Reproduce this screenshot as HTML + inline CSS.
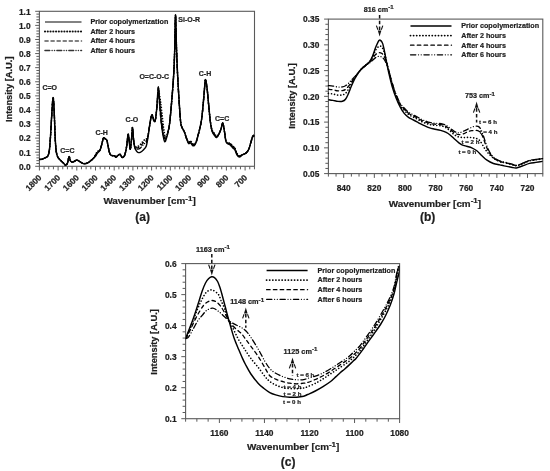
<!DOCTYPE html>
<html><head><meta charset="utf-8"><title>FTIR spectra</title>
<style>html,body{margin:0;padding:0;background:#fff;width:550px;height:471px;overflow:hidden}
text{font-family:"Liberation Sans", sans-serif;stroke:#1e1e1e;stroke-width:0.22px;paint-order:stroke}</style></head>
<body>
<svg width="550" height="471" viewBox="0 0 550 471" style="display:block;filter:grayscale(1) blur(0.35px)">
<defs><clipPath id="ca"><rect x="39.4" y="11.3" width="215.1" height="155"/></clipPath><clipPath id="cc"><rect x="185.6" y="263.6" width="214" height="155.1"/></clipPath></defs>
<rect width="550" height="471" fill="#fff"/>
<g font-family='"Liberation Sans", sans-serif'>
<line x1="35.2" y1="166.3" x2="39.4" y2="166.3" stroke="#5a5a5a" stroke-width="1.0" />
<text x="30.6" y="166.6" font-size="8.4" font-weight="bold" text-anchor="end" dominant-baseline="central" fill="#1e1e1e" >0.0</text>
<line x1="36.4" y1="163.48" x2="39.4" y2="163.48" stroke="#5a5a5a" stroke-width="1.0" />
<line x1="36.4" y1="160.66" x2="39.4" y2="160.66" stroke="#5a5a5a" stroke-width="1.0" />
<line x1="36.4" y1="157.85" x2="39.4" y2="157.85" stroke="#5a5a5a" stroke-width="1.0" />
<line x1="36.4" y1="155.03" x2="39.4" y2="155.03" stroke="#5a5a5a" stroke-width="1.0" />
<line x1="35.2" y1="152.21" x2="39.4" y2="152.21" stroke="#5a5a5a" stroke-width="1.0" />
<text x="30.6" y="152.51" font-size="8.4" font-weight="bold" text-anchor="end" dominant-baseline="central" fill="#1e1e1e" >0.1</text>
<line x1="36.4" y1="149.39" x2="39.4" y2="149.39" stroke="#5a5a5a" stroke-width="1.0" />
<line x1="36.4" y1="146.57" x2="39.4" y2="146.57" stroke="#5a5a5a" stroke-width="1.0" />
<line x1="36.4" y1="143.75" x2="39.4" y2="143.75" stroke="#5a5a5a" stroke-width="1.0" />
<line x1="36.4" y1="140.94" x2="39.4" y2="140.94" stroke="#5a5a5a" stroke-width="1.0" />
<line x1="35.2" y1="138.12" x2="39.4" y2="138.12" stroke="#5a5a5a" stroke-width="1.0" />
<text x="30.6" y="138.42" font-size="8.4" font-weight="bold" text-anchor="end" dominant-baseline="central" fill="#1e1e1e" >0.2</text>
<line x1="36.4" y1="135.3" x2="39.4" y2="135.3" stroke="#5a5a5a" stroke-width="1.0" />
<line x1="36.4" y1="132.48" x2="39.4" y2="132.48" stroke="#5a5a5a" stroke-width="1.0" />
<line x1="36.4" y1="129.66" x2="39.4" y2="129.66" stroke="#5a5a5a" stroke-width="1.0" />
<line x1="36.4" y1="126.85" x2="39.4" y2="126.85" stroke="#5a5a5a" stroke-width="1.0" />
<line x1="35.2" y1="124.03" x2="39.4" y2="124.03" stroke="#5a5a5a" stroke-width="1.0" />
<text x="30.6" y="124.33" font-size="8.4" font-weight="bold" text-anchor="end" dominant-baseline="central" fill="#1e1e1e" >0.3</text>
<line x1="36.4" y1="121.21" x2="39.4" y2="121.21" stroke="#5a5a5a" stroke-width="1.0" />
<line x1="36.4" y1="118.39" x2="39.4" y2="118.39" stroke="#5a5a5a" stroke-width="1.0" />
<line x1="36.4" y1="115.57" x2="39.4" y2="115.57" stroke="#5a5a5a" stroke-width="1.0" />
<line x1="36.4" y1="112.75" x2="39.4" y2="112.75" stroke="#5a5a5a" stroke-width="1.0" />
<line x1="35.2" y1="109.94" x2="39.4" y2="109.94" stroke="#5a5a5a" stroke-width="1.0" />
<text x="30.6" y="110.24" font-size="8.4" font-weight="bold" text-anchor="end" dominant-baseline="central" fill="#1e1e1e" >0.4</text>
<line x1="36.4" y1="107.12" x2="39.4" y2="107.12" stroke="#5a5a5a" stroke-width="1.0" />
<line x1="36.4" y1="104.3" x2="39.4" y2="104.3" stroke="#5a5a5a" stroke-width="1.0" />
<line x1="36.4" y1="101.48" x2="39.4" y2="101.48" stroke="#5a5a5a" stroke-width="1.0" />
<line x1="36.4" y1="98.66" x2="39.4" y2="98.66" stroke="#5a5a5a" stroke-width="1.0" />
<line x1="35.2" y1="95.85" x2="39.4" y2="95.85" stroke="#5a5a5a" stroke-width="1.0" />
<text x="30.6" y="96.15" font-size="8.4" font-weight="bold" text-anchor="end" dominant-baseline="central" fill="#1e1e1e" >0.5</text>
<line x1="36.4" y1="93.03" x2="39.4" y2="93.03" stroke="#5a5a5a" stroke-width="1.0" />
<line x1="36.4" y1="90.21" x2="39.4" y2="90.21" stroke="#5a5a5a" stroke-width="1.0" />
<line x1="36.4" y1="87.39" x2="39.4" y2="87.39" stroke="#5a5a5a" stroke-width="1.0" />
<line x1="36.4" y1="84.57" x2="39.4" y2="84.57" stroke="#5a5a5a" stroke-width="1.0" />
<line x1="35.2" y1="81.75" x2="39.4" y2="81.75" stroke="#5a5a5a" stroke-width="1.0" />
<text x="30.6" y="82.05" font-size="8.4" font-weight="bold" text-anchor="end" dominant-baseline="central" fill="#1e1e1e" >0.6</text>
<line x1="36.4" y1="78.94" x2="39.4" y2="78.94" stroke="#5a5a5a" stroke-width="1.0" />
<line x1="36.4" y1="76.12" x2="39.4" y2="76.12" stroke="#5a5a5a" stroke-width="1.0" />
<line x1="36.4" y1="73.3" x2="39.4" y2="73.3" stroke="#5a5a5a" stroke-width="1.0" />
<line x1="36.4" y1="70.48" x2="39.4" y2="70.48" stroke="#5a5a5a" stroke-width="1.0" />
<line x1="35.2" y1="67.66" x2="39.4" y2="67.66" stroke="#5a5a5a" stroke-width="1.0" />
<text x="30.6" y="67.96" font-size="8.4" font-weight="bold" text-anchor="end" dominant-baseline="central" fill="#1e1e1e" >0.7</text>
<line x1="36.4" y1="64.85" x2="39.4" y2="64.85" stroke="#5a5a5a" stroke-width="1.0" />
<line x1="36.4" y1="62.03" x2="39.4" y2="62.03" stroke="#5a5a5a" stroke-width="1.0" />
<line x1="36.4" y1="59.21" x2="39.4" y2="59.21" stroke="#5a5a5a" stroke-width="1.0" />
<line x1="36.4" y1="56.39" x2="39.4" y2="56.39" stroke="#5a5a5a" stroke-width="1.0" />
<line x1="35.2" y1="53.57" x2="39.4" y2="53.57" stroke="#5a5a5a" stroke-width="1.0" />
<text x="30.6" y="53.87" font-size="8.4" font-weight="bold" text-anchor="end" dominant-baseline="central" fill="#1e1e1e" >0.8</text>
<line x1="36.4" y1="50.75" x2="39.4" y2="50.75" stroke="#5a5a5a" stroke-width="1.0" />
<line x1="36.4" y1="47.94" x2="39.4" y2="47.94" stroke="#5a5a5a" stroke-width="1.0" />
<line x1="36.4" y1="45.12" x2="39.4" y2="45.12" stroke="#5a5a5a" stroke-width="1.0" />
<line x1="36.4" y1="42.3" x2="39.4" y2="42.3" stroke="#5a5a5a" stroke-width="1.0" />
<line x1="35.2" y1="39.48" x2="39.4" y2="39.48" stroke="#5a5a5a" stroke-width="1.0" />
<text x="30.6" y="39.78" font-size="8.4" font-weight="bold" text-anchor="end" dominant-baseline="central" fill="#1e1e1e" >0.9</text>
<line x1="36.4" y1="36.66" x2="39.4" y2="36.66" stroke="#5a5a5a" stroke-width="1.0" />
<line x1="36.4" y1="33.85" x2="39.4" y2="33.85" stroke="#5a5a5a" stroke-width="1.0" />
<line x1="36.4" y1="31.03" x2="39.4" y2="31.03" stroke="#5a5a5a" stroke-width="1.0" />
<line x1="36.4" y1="28.21" x2="39.4" y2="28.21" stroke="#5a5a5a" stroke-width="1.0" />
<line x1="35.2" y1="25.39" x2="39.4" y2="25.39" stroke="#5a5a5a" stroke-width="1.0" />
<text x="30.6" y="25.69" font-size="8.4" font-weight="bold" text-anchor="end" dominant-baseline="central" fill="#1e1e1e" >1.0</text>
<line x1="36.4" y1="22.57" x2="39.4" y2="22.57" stroke="#5a5a5a" stroke-width="1.0" />
<line x1="36.4" y1="19.75" x2="39.4" y2="19.75" stroke="#5a5a5a" stroke-width="1.0" />
<line x1="36.4" y1="16.94" x2="39.4" y2="16.94" stroke="#5a5a5a" stroke-width="1.0" />
<line x1="36.4" y1="14.12" x2="39.4" y2="14.12" stroke="#5a5a5a" stroke-width="1.0" />
<line x1="35.2" y1="11.3" x2="39.4" y2="11.3" stroke="#5a5a5a" stroke-width="1.0" />
<text x="30.6" y="11.6" font-size="8.4" font-weight="bold" text-anchor="end" dominant-baseline="central" fill="#1e1e1e" >1.1</text>
<line x1="39.4" y1="166.3" x2="39.4" y2="170.5" stroke="#5a5a5a" stroke-width="1.0" />
<text x="0" y="0" font-size="8.4" font-weight="bold" fill="#1e1e1e" text-anchor="end" dominant-baseline="central" transform="translate(40,176.1) rotate(-45)">1800</text>
<line x1="44.07" y1="166.3" x2="44.07" y2="169.3" stroke="#5a5a5a" stroke-width="1.0" />
<line x1="48.75" y1="166.3" x2="48.75" y2="169.3" stroke="#5a5a5a" stroke-width="1.0" />
<line x1="53.42" y1="166.3" x2="53.42" y2="169.3" stroke="#5a5a5a" stroke-width="1.0" />
<line x1="58.1" y1="166.3" x2="58.1" y2="170.5" stroke="#5a5a5a" stroke-width="1.0" />
<text x="0" y="0" font-size="8.4" font-weight="bold" fill="#1e1e1e" text-anchor="end" dominant-baseline="central" transform="translate(58.7,176.1) rotate(-45)">1700</text>
<line x1="62.77" y1="166.3" x2="62.77" y2="169.3" stroke="#5a5a5a" stroke-width="1.0" />
<line x1="67.45" y1="166.3" x2="67.45" y2="169.3" stroke="#5a5a5a" stroke-width="1.0" />
<line x1="72.12" y1="166.3" x2="72.12" y2="169.3" stroke="#5a5a5a" stroke-width="1.0" />
<line x1="76.8" y1="166.3" x2="76.8" y2="170.5" stroke="#5a5a5a" stroke-width="1.0" />
<text x="0" y="0" font-size="8.4" font-weight="bold" fill="#1e1e1e" text-anchor="end" dominant-baseline="central" transform="translate(77.4,176.1) rotate(-45)">1600</text>
<line x1="81.47" y1="166.3" x2="81.47" y2="169.3" stroke="#5a5a5a" stroke-width="1.0" />
<line x1="86.15" y1="166.3" x2="86.15" y2="169.3" stroke="#5a5a5a" stroke-width="1.0" />
<line x1="90.82" y1="166.3" x2="90.82" y2="169.3" stroke="#5a5a5a" stroke-width="1.0" />
<line x1="95.5" y1="166.3" x2="95.5" y2="170.5" stroke="#5a5a5a" stroke-width="1.0" />
<text x="0" y="0" font-size="8.4" font-weight="bold" fill="#1e1e1e" text-anchor="end" dominant-baseline="central" transform="translate(96.1,176.1) rotate(-45)">1500</text>
<line x1="100.17" y1="166.3" x2="100.17" y2="169.3" stroke="#5a5a5a" stroke-width="1.0" />
<line x1="104.85" y1="166.3" x2="104.85" y2="169.3" stroke="#5a5a5a" stroke-width="1.0" />
<line x1="109.53" y1="166.3" x2="109.53" y2="169.3" stroke="#5a5a5a" stroke-width="1.0" />
<line x1="114.2" y1="166.3" x2="114.2" y2="170.5" stroke="#5a5a5a" stroke-width="1.0" />
<text x="0" y="0" font-size="8.4" font-weight="bold" fill="#1e1e1e" text-anchor="end" dominant-baseline="central" transform="translate(114.8,176.1) rotate(-45)">1400</text>
<line x1="118.88" y1="166.3" x2="118.88" y2="169.3" stroke="#5a5a5a" stroke-width="1.0" />
<line x1="123.55" y1="166.3" x2="123.55" y2="169.3" stroke="#5a5a5a" stroke-width="1.0" />
<line x1="128.22" y1="166.3" x2="128.22" y2="169.3" stroke="#5a5a5a" stroke-width="1.0" />
<line x1="132.9" y1="166.3" x2="132.9" y2="170.5" stroke="#5a5a5a" stroke-width="1.0" />
<text x="0" y="0" font-size="8.4" font-weight="bold" fill="#1e1e1e" text-anchor="end" dominant-baseline="central" transform="translate(133.5,176.1) rotate(-45)">1300</text>
<line x1="137.57" y1="166.3" x2="137.57" y2="169.3" stroke="#5a5a5a" stroke-width="1.0" />
<line x1="142.25" y1="166.3" x2="142.25" y2="169.3" stroke="#5a5a5a" stroke-width="1.0" />
<line x1="146.93" y1="166.3" x2="146.93" y2="169.3" stroke="#5a5a5a" stroke-width="1.0" />
<line x1="151.6" y1="166.3" x2="151.6" y2="170.5" stroke="#5a5a5a" stroke-width="1.0" />
<text x="0" y="0" font-size="8.4" font-weight="bold" fill="#1e1e1e" text-anchor="end" dominant-baseline="central" transform="translate(152.2,176.1) rotate(-45)">1200</text>
<line x1="156.28" y1="166.3" x2="156.28" y2="169.3" stroke="#5a5a5a" stroke-width="1.0" />
<line x1="160.95" y1="166.3" x2="160.95" y2="169.3" stroke="#5a5a5a" stroke-width="1.0" />
<line x1="165.62" y1="166.3" x2="165.62" y2="169.3" stroke="#5a5a5a" stroke-width="1.0" />
<line x1="170.3" y1="166.3" x2="170.3" y2="170.5" stroke="#5a5a5a" stroke-width="1.0" />
<text x="0" y="0" font-size="8.4" font-weight="bold" fill="#1e1e1e" text-anchor="end" dominant-baseline="central" transform="translate(170.9,176.1) rotate(-45)">1100</text>
<line x1="174.97" y1="166.3" x2="174.97" y2="169.3" stroke="#5a5a5a" stroke-width="1.0" />
<line x1="179.65" y1="166.3" x2="179.65" y2="169.3" stroke="#5a5a5a" stroke-width="1.0" />
<line x1="184.33" y1="166.3" x2="184.33" y2="169.3" stroke="#5a5a5a" stroke-width="1.0" />
<line x1="189" y1="166.3" x2="189" y2="170.5" stroke="#5a5a5a" stroke-width="1.0" />
<text x="0" y="0" font-size="8.4" font-weight="bold" fill="#1e1e1e" text-anchor="end" dominant-baseline="central" transform="translate(189.6,176.1) rotate(-45)">1000</text>
<line x1="193.68" y1="166.3" x2="193.68" y2="169.3" stroke="#5a5a5a" stroke-width="1.0" />
<line x1="198.35" y1="166.3" x2="198.35" y2="169.3" stroke="#5a5a5a" stroke-width="1.0" />
<line x1="203.03" y1="166.3" x2="203.03" y2="169.3" stroke="#5a5a5a" stroke-width="1.0" />
<line x1="207.7" y1="166.3" x2="207.7" y2="170.5" stroke="#5a5a5a" stroke-width="1.0" />
<text x="0" y="0" font-size="8.4" font-weight="bold" fill="#1e1e1e" text-anchor="end" dominant-baseline="central" transform="translate(208.3,176.1) rotate(-45)">900</text>
<line x1="212.38" y1="166.3" x2="212.38" y2="169.3" stroke="#5a5a5a" stroke-width="1.0" />
<line x1="217.05" y1="166.3" x2="217.05" y2="169.3" stroke="#5a5a5a" stroke-width="1.0" />
<line x1="221.72" y1="166.3" x2="221.72" y2="169.3" stroke="#5a5a5a" stroke-width="1.0" />
<line x1="226.4" y1="166.3" x2="226.4" y2="170.5" stroke="#5a5a5a" stroke-width="1.0" />
<text x="0" y="0" font-size="8.4" font-weight="bold" fill="#1e1e1e" text-anchor="end" dominant-baseline="central" transform="translate(227,176.1) rotate(-45)">800</text>
<line x1="231.08" y1="166.3" x2="231.08" y2="169.3" stroke="#5a5a5a" stroke-width="1.0" />
<line x1="235.75" y1="166.3" x2="235.75" y2="169.3" stroke="#5a5a5a" stroke-width="1.0" />
<line x1="240.43" y1="166.3" x2="240.43" y2="169.3" stroke="#5a5a5a" stroke-width="1.0" />
<line x1="245.1" y1="166.3" x2="245.1" y2="170.5" stroke="#5a5a5a" stroke-width="1.0" />
<text x="0" y="0" font-size="8.4" font-weight="bold" fill="#1e1e1e" text-anchor="end" dominant-baseline="central" transform="translate(245.7,176.1) rotate(-45)">700</text>
<line x1="249.78" y1="166.3" x2="249.78" y2="169.3" stroke="#5a5a5a" stroke-width="1.0" />
<line x1="254.45" y1="166.3" x2="254.45" y2="169.3" stroke="#5a5a5a" stroke-width="1.0" />
<rect x="39.4" y="11.3" width="215.1" height="155" fill="none" stroke="#5a5a5a" stroke-width="1.1"/>
<line x1="45" y1="22" x2="81.5" y2="22" stroke="#585858" stroke-width="1.7" />
<text x="90.4" y="21.8" font-size="7.2" font-weight="bold" text-anchor="start" dominant-baseline="central" fill="#1e1e1e" >Prior copolymerization</text>
<line x1="45" y1="31.5" x2="81.5" y2="31.5" stroke="#111" stroke-width="2.15" stroke-dasharray="0.01 2.76" stroke-linecap="round"/>
<text x="90.4" y="31.3" font-size="7.2" font-weight="bold" text-anchor="start" dominant-baseline="central" fill="#1e1e1e" >After 2 hours</text>
<line x1="45" y1="41" x2="81.5" y2="41" stroke="#585858" stroke-width="1.55" stroke-dasharray="3.12 2.94" stroke-linecap="round"/>
<text x="90.4" y="40.8" font-size="7.2" font-weight="bold" text-anchor="start" dominant-baseline="central" fill="#1e1e1e" >After 4 hours</text>
<line x1="45" y1="50.5" x2="81.5" y2="50.5" stroke="#333" stroke-width="1.55" stroke-dasharray="4.72 2.4 0.01 2.4 0.01 2.4" stroke-linecap="round"/>
<text x="90.4" y="50.3" font-size="7.2" font-weight="bold" text-anchor="start" dominant-baseline="central" fill="#1e1e1e" >After 6 hours</text>
<text x="49.7" y="87.2" font-size="7.0" font-weight="bold" text-anchor="middle" dominant-baseline="central" fill="#1e1e1e" >C=O</text>
<text x="67.4" y="150.2" font-size="7.0" font-weight="bold" text-anchor="middle" dominant-baseline="central" fill="#1e1e1e" >C=C</text>
<text x="101.7" y="132.3" font-size="7.0" font-weight="bold" text-anchor="middle" dominant-baseline="central" fill="#1e1e1e" >C-H</text>
<text x="131.9" y="119.4" font-size="7.0" font-weight="bold" text-anchor="middle" dominant-baseline="central" fill="#1e1e1e" >C-O</text>
<text x="154.3" y="76.4" font-size="7.0" font-weight="bold" text-anchor="middle" dominant-baseline="central" fill="#1e1e1e" >O=C-O-C</text>
<text x="189.2" y="19.1" font-size="7.0" font-weight="bold" text-anchor="middle" dominant-baseline="central" fill="#1e1e1e" >Si-O-R</text>
<text x="205" y="73.8" font-size="7.0" font-weight="bold" text-anchor="middle" dominant-baseline="central" fill="#1e1e1e" >C-H</text>
<text x="222.1" y="118.9" font-size="7.0" font-weight="bold" text-anchor="middle" dominant-baseline="central" fill="#1e1e1e" >C=C</text>
<g clip-path="url(#ca)">
<path d="M39.6,159.4 C40,159.38 41.27,159.48 42,159.3 C42.73,159.12 43.25,158.65 44,158.3 C44.75,157.95 45.82,157.68 46.5,157.2 C47.18,156.72 47.62,156.6 48.1,155.4 C48.58,154.2 48.98,153.4 49.4,150 C49.82,146.6 50.2,141 50.6,135 C51,129 51.38,120.23 51.8,114 C52.22,107.77 52.7,97.93 53.1,97.6 C53.5,97.27 53.85,105.27 54.2,112 C54.55,118.73 54.87,131.5 55.2,138 C55.53,144.5 55.82,147.93 56.2,151 C56.58,154.07 56.92,154.98 57.5,156.4 C58.08,157.82 58.78,158.47 59.7,159.5 C60.62,160.53 62.02,161.65 63,162.6 C63.98,163.55 64.85,165.13 65.6,165.2 C66.35,165.27 66.92,164.43 67.5,163 C68.08,161.57 68.58,156.9 69.1,156.6 C69.62,156.3 69.95,160.3 70.6,161.2 C71.25,162.1 72.18,162.1 73,162 C73.82,161.9 74.78,160.9 75.5,160.6 C76.22,160.3 76.48,159.97 77.3,160.2 C78.12,160.43 79.33,161.43 80.4,162 C81.47,162.57 82.47,163.47 83.7,163.6 C84.93,163.73 86.35,163.52 87.8,162.8 C89.25,162.08 91.12,160.52 92.4,159.3 C93.68,158.08 94.68,156.64 95.5,155.49 C96.32,154.34 96.58,153.25 97.3,152.41 C98.02,151.58 99.15,151.48 99.8,150.5 C100.45,149.51 100.77,148 101.2,146.5 C101.63,145 102,142.95 102.4,141.5 C102.8,140.05 103.12,138.23 103.6,137.8 C104.08,137.37 104.77,138.48 105.3,138.9 C105.83,139.32 106.38,139.37 106.8,140.3 C107.22,141.23 107.43,142.78 107.8,144.5 C108.17,146.22 108.6,148.97 109,150.6 C109.4,152.23 109.68,153.47 110.2,154.3 C110.72,155.13 111.37,155.35 112.1,155.6 C112.83,155.85 113.98,155.52 114.6,155.8 C115.22,156.08 115.3,157.3 115.8,157.3 C116.3,157.3 116.88,156.3 117.6,155.8 C118.32,155.3 119.38,154.05 120.1,154.3 C120.82,154.55 121.22,156.98 121.9,157.3 C122.58,157.62 123.58,157.1 124.2,156.2 C124.82,155.3 125.15,153.85 125.6,151.9 C126.05,149.95 126.48,147.45 126.9,144.5 C127.32,141.55 127.7,134.62 128.1,134.2 C128.5,133.78 128.93,139.5 129.3,142 C129.67,144.5 129.93,149.6 130.3,149.2 C130.67,148.8 131.13,143.2 131.5,139.6 C131.87,136 132.15,127.53 132.5,127.6 C132.85,127.67 133.2,136.65 133.6,140 C134,143.35 134.47,146.23 134.9,147.69 C135.33,149.16 135.72,148.55 136.2,148.8 C136.68,149.05 137.13,149.3 137.8,149.2 C138.47,149.1 139.5,148.7 140.2,148.2 C140.9,147.7 141.43,146.8 142,146.2 C142.57,145.6 143.1,145.1 143.6,144.6 C144.1,144.1 144.52,143.57 145,143.2 C145.48,142.83 146.02,143.5 146.5,142.4 C146.98,141.3 147.38,139.35 147.9,136.6 C148.42,133.85 149.05,129.2 149.6,125.9 C150.15,122.6 150.73,118.58 151.2,116.8 C151.67,115.02 151.97,114.57 152.4,115.2 C152.83,115.83 153.33,119.7 153.8,120.6 C154.27,121.5 154.72,122.53 155.2,120.6 C155.68,118.67 156.18,114.4 156.7,109 C157.22,103.6 157.98,91.28 158.3,88.2 C158.62,85.12 158.28,87.7 158.6,90.5 C158.92,93.3 159.6,99.5 160.2,105 C160.8,110.5 161.6,118.5 162.2,123.5 C162.8,128.5 163.32,132.38 163.8,135 C164.28,137.62 164.62,138.95 165.1,139.2 C165.58,139.45 166.18,137.87 166.7,136.5 C167.22,135.13 167.72,133.15 168.2,131 C168.68,128.85 169.03,128.37 169.6,123.6 C170.17,118.83 170.93,110.33 171.6,102.4 C172.27,94.47 173.08,84.73 173.6,76 C174.12,67.27 174.38,60.17 174.7,50 C175.02,39.83 175.2,15.33 175.5,15 C175.8,14.67 176.17,38.33 176.5,48 C176.83,57.67 177.15,65.5 177.5,73 C177.85,80.5 178.23,86.83 178.6,93 C178.97,99.17 179.33,104.97 179.7,110 C180.07,115.03 180.38,120.23 180.8,123.2 C181.22,126.17 181.6,126.33 182.2,127.8 C182.8,129.27 183.68,130.26 184.4,132 C185.12,133.74 185.8,136.45 186.5,138.26 C187.2,140.06 187.93,142.23 188.6,142.82 C189.27,143.42 189.83,141.54 190.5,141.84 C191.17,142.14 191.92,144.19 192.6,144.65 C193.28,145.1 193.97,145.12 194.6,144.57 C195.23,144.01 195.83,142.84 196.4,141.33 C196.97,139.82 197.43,137.64 198,135.5 C198.57,133.36 199.2,131.17 199.8,128.5 C200.4,125.83 201.03,123.58 201.6,119.5 C202.17,115.42 202.73,108.92 203.2,104 C203.67,99.08 204.03,94.07 204.4,90 C204.77,85.93 204.95,79.82 205.4,79.6 C205.85,79.38 206.55,84.4 207.1,88.7 C207.65,93 208.15,99.87 208.7,105.4 C209.25,110.93 209.83,117.64 210.4,121.86 C210.97,126.08 211.4,128.61 212.1,130.73 C212.8,132.85 213.83,133.58 214.6,134.6 C215.37,135.63 215.93,137.06 216.7,136.88 C217.47,136.7 218.45,134.93 219.2,133.5 C219.95,132.07 220.6,130.03 221.2,128.3 C221.8,126.57 222.23,122.42 222.8,123.1 C223.37,123.78 224.07,129.35 224.6,132.4 C225.13,135.45 225.42,139.59 226,141.42 C226.58,143.24 227.4,142.91 228.1,143.36 C228.8,143.8 229.4,143.47 230.2,144.08 C231,144.69 232.1,146.16 232.9,147.01 C233.7,147.85 234.3,147.92 235,149.14 C235.7,150.36 236.33,153.07 237.1,154.31 C237.87,155.55 238.85,156.42 239.6,156.57 C240.35,156.72 240.73,155.7 241.6,155.23 C242.47,154.75 243.93,154.2 244.8,153.7 C245.67,153.2 246.12,152.97 246.8,152.2 C247.48,151.43 248.2,150.83 248.9,149.1 C249.6,147.37 250.3,144.05 251,141.8 C251.7,139.55 252.55,136.5 253.1,135.6 C253.65,134.7 254.1,136.27 254.3,136.4" fill="none" stroke="#000" stroke-width="1.3" stroke-linejoin="round" stroke-dasharray="4.72 2.4 0.01 2.4 0.01 2.4" stroke-linecap="round"/>
<path d="M39.6,159.4 C40,159.38 41.27,159.48 42,159.3 C42.73,159.12 43.25,158.65 44,158.3 C44.75,157.95 45.82,157.68 46.5,157.2 C47.18,156.72 47.62,156.6 48.1,155.4 C48.58,154.2 48.98,153.4 49.4,150 C49.82,146.6 50.2,141 50.6,135 C51,129 51.38,120.23 51.8,114 C52.22,107.77 52.7,97.93 53.1,97.6 C53.5,97.27 53.85,105.27 54.2,112 C54.55,118.73 54.87,131.5 55.2,138 C55.53,144.5 55.82,147.93 56.2,151 C56.58,154.07 56.92,154.98 57.5,156.4 C58.08,157.82 58.78,158.47 59.7,159.5 C60.62,160.53 62.02,161.65 63,162.6 C63.98,163.55 64.85,165.13 65.6,165.2 C66.35,165.27 66.92,164.43 67.5,163 C68.08,161.57 68.58,156.9 69.1,156.6 C69.62,156.3 69.95,160.3 70.6,161.2 C71.25,162.1 72.18,162.1 73,162 C73.82,161.9 74.78,160.9 75.5,160.6 C76.22,160.3 76.48,159.97 77.3,160.2 C78.12,160.43 79.33,161.43 80.4,162 C81.47,162.57 82.47,163.47 83.7,163.6 C84.93,163.73 86.35,163.52 87.8,162.8 C89.25,162.08 91.12,160.58 92.4,159.3 C93.68,158.02 94.68,156.37 95.5,155.14 C96.32,153.91 96.58,152.7 97.3,151.92 C98.02,151.14 99.15,151.35 99.8,150.44 C100.45,149.54 100.77,147.99 101.2,146.5 C101.63,145.01 102,142.95 102.4,141.5 C102.8,140.05 103.12,138.23 103.6,137.8 C104.08,137.37 104.77,138.48 105.3,138.9 C105.83,139.32 106.38,139.37 106.8,140.3 C107.22,141.23 107.43,142.78 107.8,144.5 C108.17,146.22 108.6,148.97 109,150.6 C109.4,152.23 109.68,153.47 110.2,154.3 C110.72,155.13 111.37,155.35 112.1,155.6 C112.83,155.85 113.98,155.52 114.6,155.8 C115.22,156.08 115.3,157.3 115.8,157.3 C116.3,157.3 116.88,156.3 117.6,155.8 C118.32,155.3 119.38,154.05 120.1,154.3 C120.82,154.55 121.22,156.98 121.9,157.3 C122.58,157.62 123.58,157.1 124.2,156.2 C124.82,155.3 125.15,153.85 125.6,151.9 C126.05,149.95 126.48,147.45 126.9,144.5 C127.32,141.55 127.7,134.62 128.1,134.2 C128.5,133.78 128.93,139.5 129.3,142 C129.67,144.5 129.93,149.6 130.3,149.2 C130.67,148.8 131.13,143.2 131.5,139.6 C131.87,136 132.15,127.53 132.5,127.6 C132.85,127.67 133.2,136.66 133.6,140 C134,143.34 134.47,146.36 134.9,147.66 C135.33,148.96 135.72,147.78 136.2,147.8 C136.68,147.82 137.13,148.07 137.8,147.8 C138.47,147.53 139.5,146.8 140.2,146.2 C140.9,145.6 141.43,144.8 142,144.2 C142.57,143.6 143.1,143.1 143.6,142.6 C144.1,142.1 144.52,141.53 145,141.2 C145.48,140.87 146.02,141.43 146.5,140.6 C146.98,139.77 147.38,138.65 147.9,136.2 C148.42,133.75 149.05,129.13 149.6,125.9 C150.15,122.67 150.73,118.58 151.2,116.8 C151.67,115.02 151.97,114.57 152.4,115.2 C152.83,115.83 153.33,119.7 153.8,120.6 C154.27,121.5 154.72,122.53 155.2,120.6 C155.68,118.67 156.18,114.4 156.7,109 C157.22,103.6 157.98,91.37 158.3,88.2 C158.62,85.03 158.38,87.28 158.6,90 C158.82,92.72 159.17,99 159.6,104.5 C160.03,110 160.63,118 161.2,123 C161.77,128 162.42,131.92 163,134.5 C163.58,137.08 164.07,138.25 164.7,138.5 C165.33,138.75 166.22,137.25 166.8,136 C167.38,134.75 167.73,133.07 168.2,131 C168.67,128.93 169.03,128.37 169.6,123.6 C170.17,118.83 170.93,110.33 171.6,102.4 C172.27,94.47 173.08,84.73 173.6,76 C174.12,67.27 174.38,60.17 174.7,50 C175.02,39.83 175.2,15.33 175.5,15 C175.8,14.67 176.17,38.33 176.5,48 C176.83,57.67 177.15,65.5 177.5,73 C177.85,80.5 178.23,86.83 178.6,93 C178.97,99.17 179.33,104.97 179.7,110 C180.07,115.03 180.38,120.23 180.8,123.2 C181.22,126.17 181.6,126.33 182.2,127.8 C182.8,129.27 183.68,130.27 184.4,132 C185.12,133.73 185.8,136.44 186.5,138.19 C187.2,139.93 187.93,141.96 188.6,142.49 C189.27,143.01 189.83,141.08 190.5,141.36 C191.17,141.64 191.92,143.69 192.6,144.17 C193.28,144.66 193.97,144.74 194.6,144.25 C195.23,143.76 195.83,142.7 196.4,141.24 C196.97,139.79 197.43,137.62 198,135.5 C198.57,133.38 199.2,131.17 199.8,128.5 C200.4,125.83 201.03,123.58 201.6,119.5 C202.17,115.42 202.73,108.92 203.2,104 C203.67,99.08 204.03,94.07 204.4,90 C204.77,85.93 204.95,79.82 205.4,79.6 C205.85,79.38 206.55,84.4 207.1,88.7 C207.65,93 208.15,99.88 208.7,105.4 C209.25,110.92 209.83,117.63 210.4,121.79 C210.97,125.96 211.4,128.34 212.1,130.4 C212.8,132.45 213.83,133.08 214.6,134.1 C215.37,135.12 215.93,136.62 216.7,136.52 C217.47,136.42 218.45,134.87 219.2,133.5 C219.95,132.13 220.6,130.03 221.2,128.3 C221.8,126.57 222.23,122.42 222.8,123.1 C223.37,123.78 224.07,129.36 224.6,132.4 C225.13,135.44 225.42,139.54 226,141.32 C226.58,143.11 227.4,142.7 228.1,143.09 C228.8,143.48 229.4,143.1 230.2,143.67 C231,144.24 232.1,145.68 232.9,146.51 C233.7,147.34 234.3,147.42 235,148.66 C235.7,149.89 236.33,152.64 237.1,153.92 C237.87,155.2 238.85,156.14 239.6,156.36 C240.35,156.57 240.73,155.63 241.6,155.19 C242.47,154.75 243.93,154.2 244.8,153.7 C245.67,153.2 246.12,152.97 246.8,152.2 C247.48,151.43 248.2,150.83 248.9,149.1 C249.6,147.37 250.3,144.05 251,141.8 C251.7,139.55 252.55,136.5 253.1,135.6 C253.65,134.7 254.1,136.27 254.3,136.4" fill="none" stroke="#000" stroke-width="1.3" stroke-linejoin="round" stroke-dasharray="3.12 2.94" stroke-linecap="round"/>
<path d="M39.6,159.4 C40,159.38 41.27,159.48 42,159.3 C42.73,159.12 43.25,158.65 44,158.3 C44.75,157.95 45.82,157.68 46.5,157.2 C47.18,156.72 47.62,156.6 48.1,155.4 C48.58,154.2 48.98,153.4 49.4,150 C49.82,146.6 50.2,141 50.6,135 C51,129 51.38,120.23 51.8,114 C52.22,107.77 52.7,97.93 53.1,97.6 C53.5,97.27 53.85,105.27 54.2,112 C54.55,118.73 54.87,131.5 55.2,138 C55.53,144.5 55.82,147.93 56.2,151 C56.58,154.07 56.92,154.98 57.5,156.4 C58.08,157.82 58.78,158.47 59.7,159.5 C60.62,160.53 62.02,161.65 63,162.6 C63.98,163.55 64.85,165.13 65.6,165.2 C66.35,165.27 66.92,164.43 67.5,163 C68.08,161.57 68.58,156.9 69.1,156.6 C69.62,156.3 69.95,160.3 70.6,161.2 C71.25,162.1 72.18,162.1 73,162 C73.82,161.9 74.78,160.9 75.5,160.6 C76.22,160.3 76.48,159.97 77.3,160.2 C78.12,160.43 79.33,161.43 80.4,162 C81.47,162.57 82.47,163.47 83.7,163.6 C84.93,163.73 86.35,163.52 87.8,162.8 C89.25,162.08 91.12,160.64 92.4,159.3 C93.68,157.96 94.68,156.1 95.5,154.79 C96.32,153.47 96.58,152.16 97.3,151.42 C98.02,150.69 99.15,151.21 99.8,150.39 C100.45,149.57 100.77,147.98 101.2,146.5 C101.63,145.02 102,142.95 102.4,141.5 C102.8,140.05 103.12,138.23 103.6,137.8 C104.08,137.37 104.77,138.48 105.3,138.9 C105.83,139.32 106.38,139.37 106.8,140.3 C107.22,141.23 107.43,142.78 107.8,144.5 C108.17,146.22 108.6,148.97 109,150.6 C109.4,152.23 109.68,153.47 110.2,154.3 C110.72,155.13 111.37,155.35 112.1,155.6 C112.83,155.85 113.98,155.52 114.6,155.8 C115.22,156.08 115.3,157.3 115.8,157.3 C116.3,157.3 116.88,156.3 117.6,155.8 C118.32,155.3 119.38,154.05 120.1,154.3 C120.82,154.55 121.22,156.98 121.9,157.3 C122.58,157.62 123.58,157.1 124.2,156.2 C124.82,155.3 125.15,153.85 125.6,151.9 C126.05,149.95 126.48,147.45 126.9,144.5 C127.32,141.55 127.7,134.62 128.1,134.2 C128.5,133.78 128.93,139.5 129.3,142 C129.67,144.5 129.93,149.6 130.3,149.2 C130.67,148.8 131.13,143.2 131.5,139.6 C131.87,136 132.15,127.53 132.5,127.6 C132.85,127.67 133.2,136.66 133.6,140 C134,143.34 134.47,146.5 134.9,147.63 C135.33,148.76 135.72,147 136.2,146.8 C136.68,146.6 137.13,146.77 137.8,146.4 C138.47,146.03 139.5,145.23 140.2,144.6 C140.9,143.97 141.43,143.23 142,142.6 C142.57,141.97 143.1,141.37 143.6,140.8 C144.1,140.23 144.52,139.52 145,139.2 C145.48,138.88 146.02,139.47 146.5,138.9 C146.98,138.33 147.38,137.97 147.9,135.8 C148.42,133.63 149.05,129.07 149.6,125.9 C150.15,122.73 150.73,118.58 151.2,116.8 C151.67,115.02 151.97,114.57 152.4,115.2 C152.83,115.83 153.33,119.7 153.8,120.6 C154.27,121.5 154.72,122.53 155.2,120.6 C155.68,118.67 156.18,114.4 156.7,109 C157.22,103.6 157.98,91.45 158.3,88.2 C158.62,84.95 158.17,86.87 158.6,89.5 C159.03,92.13 160.18,98.58 160.9,104 C161.62,109.42 162.32,117.17 162.9,122 C163.48,126.83 163.97,130.5 164.4,133 C164.83,135.5 165.07,136.67 165.5,137 C165.93,137.33 166.55,136 167,135 C167.45,134 167.77,132.9 168.2,131 C168.63,129.1 169.03,128.37 169.6,123.6 C170.17,118.83 170.93,110.33 171.6,102.4 C172.27,94.47 173.08,84.73 173.6,76 C174.12,67.27 174.38,60.17 174.7,50 C175.02,39.83 175.2,15.33 175.5,15 C175.8,14.67 176.17,38.33 176.5,48 C176.83,57.67 177.15,65.5 177.5,73 C177.85,80.5 178.23,86.83 178.6,93 C178.97,99.17 179.33,104.97 179.7,110 C180.07,115.03 180.38,120.23 180.8,123.2 C181.22,126.17 181.6,126.33 182.2,127.8 C182.8,129.27 183.68,130.28 184.4,132 C185.12,133.72 185.8,136.42 186.5,138.12 C187.2,139.81 187.93,141.69 188.6,142.15 C189.27,142.61 189.83,140.62 190.5,140.88 C191.17,141.14 191.92,143.19 192.6,143.7 C193.28,144.21 193.97,144.36 194.6,143.93 C195.23,143.51 195.83,142.56 196.4,141.16 C196.97,139.75 197.43,137.61 198,135.5 C198.57,133.39 199.2,131.17 199.8,128.5 C200.4,125.83 201.03,123.58 201.6,119.5 C202.17,115.42 202.73,108.92 203.2,104 C203.67,99.08 204.03,94.07 204.4,90 C204.77,85.93 204.95,79.82 205.4,79.6 C205.85,79.38 206.55,84.4 207.1,88.7 C207.65,93 208.15,99.9 208.7,105.4 C209.25,110.9 209.83,117.61 210.4,121.72 C210.97,125.83 211.4,128.08 212.1,130.06 C212.8,132.04 213.83,132.58 214.6,133.6 C215.37,134.62 215.93,136.18 216.7,136.16 C217.47,136.14 218.45,134.81 219.2,133.5 C219.95,132.19 220.6,130.03 221.2,128.3 C221.8,126.57 222.23,122.42 222.8,123.1 C223.37,123.78 224.07,129.38 224.6,132.4 C225.13,135.42 225.42,139.5 226,141.23 C226.58,142.97 227.4,142.48 228.1,142.82 C228.8,143.15 229.4,142.73 230.2,143.26 C231,143.79 232.1,145.19 232.9,146.01 C233.7,146.83 234.3,146.92 235,148.18 C235.7,149.43 236.33,152.2 237.1,153.53 C237.87,154.85 238.85,155.87 239.6,156.14 C240.35,156.41 240.73,155.56 241.6,155.15 C242.47,154.75 243.93,154.19 244.8,153.7 C245.67,153.21 246.12,152.97 246.8,152.2 C247.48,151.43 248.2,150.83 248.9,149.1 C249.6,147.37 250.3,144.05 251,141.8 C251.7,139.55 252.55,136.5 253.1,135.6 C253.65,134.7 254.1,136.27 254.3,136.4" fill="none" stroke="#000" stroke-width="1.65" stroke-linejoin="round" stroke-dasharray="0.01 2.76" stroke-linecap="round"/>
<path d="M39.6,159.4 C40,159.38 41.27,159.48 42,159.3 C42.73,159.12 43.25,158.65 44,158.3 C44.75,157.95 45.82,157.68 46.5,157.2 C47.18,156.72 47.62,156.6 48.1,155.4 C48.58,154.2 48.98,153.4 49.4,150 C49.82,146.6 50.2,141 50.6,135 C51,129 51.38,120.23 51.8,114 C52.22,107.77 52.7,97.93 53.1,97.6 C53.5,97.27 53.85,105.27 54.2,112 C54.55,118.73 54.87,131.5 55.2,138 C55.53,144.5 55.82,147.93 56.2,151 C56.58,154.07 56.92,154.98 57.5,156.4 C58.08,157.82 58.78,158.47 59.7,159.5 C60.62,160.53 62.02,161.65 63,162.6 C63.98,163.55 64.85,165.13 65.6,165.2 C66.35,165.27 66.92,164.43 67.5,163 C68.08,161.57 68.58,156.9 69.1,156.6 C69.62,156.3 69.95,160.3 70.6,161.2 C71.25,162.1 72.18,162.1 73,162 C73.82,161.9 74.78,160.9 75.5,160.6 C76.22,160.3 76.48,159.97 77.3,160.2 C78.12,160.43 79.33,161.43 80.4,162 C81.47,162.57 82.47,163.47 83.7,163.6 C84.93,163.73 86.35,163.52 87.8,162.8 C89.25,162.08 91.12,160.4 92.4,159.3 C93.68,158.2 94.68,157.18 95.5,156.2 C96.32,155.22 96.58,154.33 97.3,153.4 C98.02,152.47 99.15,151.75 99.8,150.6 C100.45,149.45 100.77,148.02 101.2,146.5 C101.63,144.98 102,142.95 102.4,141.5 C102.8,140.05 103.12,138.23 103.6,137.8 C104.08,137.37 104.77,138.48 105.3,138.9 C105.83,139.32 106.38,139.37 106.8,140.3 C107.22,141.23 107.43,142.78 107.8,144.5 C108.17,146.22 108.6,148.97 109,150.6 C109.4,152.23 109.68,153.47 110.2,154.3 C110.72,155.13 111.37,155.35 112.1,155.6 C112.83,155.85 113.98,155.52 114.6,155.8 C115.22,156.08 115.3,157.3 115.8,157.3 C116.3,157.3 116.88,156.3 117.6,155.8 C118.32,155.3 119.38,154.05 120.1,154.3 C120.82,154.55 121.22,156.98 121.9,157.3 C122.58,157.62 123.58,157.1 124.2,156.2 C124.82,155.3 125.15,153.85 125.6,151.9 C126.05,149.95 126.48,147.45 126.9,144.5 C127.32,141.55 127.7,134.62 128.1,134.2 C128.5,133.78 128.93,139.5 129.3,142 C129.67,144.5 129.93,149.6 130.3,149.2 C130.67,148.8 131.13,143.2 131.5,139.6 C131.87,136 132.15,127.53 132.5,127.6 C132.85,127.67 133.2,136.63 133.6,140 C134,143.37 134.47,146.03 134.9,147.8 C135.33,149.57 135.72,149.85 136.2,150.6 C136.68,151.35 137.13,152 137.8,152.3 C138.47,152.6 139.23,152.83 140.2,152.4 C141.17,151.97 142.6,150.72 143.6,149.7 C144.6,148.68 145.48,148.28 146.2,146.3 C146.92,144.32 147.33,141.2 147.9,137.8 C148.47,134.4 149.05,129.4 149.6,125.9 C150.15,122.4 150.73,118.58 151.2,116.8 C151.67,115.02 151.97,114.57 152.4,115.2 C152.83,115.83 153.33,119.7 153.8,120.6 C154.27,121.5 154.72,122.53 155.2,120.6 C155.68,118.67 156.18,114.4 156.7,109 C157.22,103.6 157.78,88.78 158.3,88.2 C158.82,87.62 159.27,99.5 159.8,105.5 C160.33,111.5 160.93,119.1 161.5,124.2 C162.07,129.3 162.65,133.17 163.2,136.1 C163.75,139.03 164.23,141.52 164.8,141.8 C165.37,142.08 166.03,139.6 166.6,137.8 C167.17,136 167.7,133.37 168.2,131 C168.7,128.63 169.03,128.37 169.6,123.6 C170.17,118.83 170.93,110.33 171.6,102.4 C172.27,94.47 173.08,84.73 173.6,76 C174.12,67.27 174.38,60.17 174.7,50 C175.02,39.83 175.2,15.33 175.5,15 C175.8,14.67 176.17,38.33 176.5,48 C176.83,57.67 177.15,65.5 177.5,73 C177.85,80.5 178.23,86.83 178.6,93 C178.97,99.17 179.33,104.97 179.7,110 C180.07,115.03 180.38,120.23 180.8,123.2 C181.22,126.17 181.6,126.33 182.2,127.8 C182.8,129.27 183.68,130.23 184.4,132 C185.12,133.77 185.8,136.48 186.5,138.4 C187.2,140.32 187.93,142.77 188.6,143.5 C189.27,144.23 189.83,142.45 190.5,142.8 C191.17,143.15 191.92,145.2 192.6,145.6 C193.28,146 193.97,145.88 194.6,145.2 C195.23,144.52 195.83,143.12 196.4,141.5 C196.97,139.88 197.43,137.67 198,135.5 C198.57,133.33 199.2,131.17 199.8,128.5 C200.4,125.83 201.03,123.58 201.6,119.5 C202.17,115.42 202.73,108.92 203.2,104 C203.67,99.08 204.03,94.07 204.4,90 C204.77,85.93 204.95,79.82 205.4,79.6 C205.85,79.38 206.55,84.4 207.1,88.7 C207.65,93 208.15,99.85 208.7,105.4 C209.25,110.95 209.83,117.67 210.4,122 C210.97,126.33 211.4,129.13 212.1,131.4 C212.8,133.67 213.83,134.57 214.6,135.6 C215.37,136.63 215.93,137.95 216.7,137.6 C217.47,137.25 218.45,135.05 219.2,133.5 C219.95,131.95 220.6,130.03 221.2,128.3 C221.8,126.57 222.23,122.42 222.8,123.1 C223.37,123.78 224.07,129.32 224.6,132.4 C225.13,135.48 225.42,139.68 226,141.6 C226.58,143.52 227.4,143.35 228.1,143.9 C228.8,144.45 229.4,144.22 230.2,144.9 C231,145.58 232.1,147.13 232.9,148 C233.7,148.87 234.3,148.92 235,150.1 C235.7,151.28 236.33,153.95 237.1,155.1 C237.87,156.25 238.85,156.97 239.6,157 C240.35,157.03 240.73,155.85 241.6,155.3 C242.47,154.75 243.93,154.22 244.8,153.7 C245.67,153.18 246.12,152.97 246.8,152.2 C247.48,151.43 248.2,150.83 248.9,149.1 C249.6,147.37 250.3,144.05 251,141.8 C251.7,139.55 252.55,136.5 253.1,135.6 C253.65,134.7 254.1,136.27 254.3,136.4" fill="none" stroke="#000" stroke-width="1.45" stroke-linejoin="round" />
</g>
<text x="149.6" y="204.4" font-size="9.9" font-weight="bold" fill="#1e1e1e" text-anchor="middle">Wavenumber [cm<tspan font-size="8" dy="-3.2">-1</tspan><tspan dy="3.2">]</tspan></text>
<text x="0" y="0" font-size="9.3" font-weight="bold" fill="#1e1e1e" text-anchor="middle" dominant-baseline="central" transform="translate(8.8,89.3) rotate(-90)">Intensity [A.U.]</text>
<text x="142.6" y="216.7" font-size="12" font-weight="bold" text-anchor="middle" dominant-baseline="central" fill="#1e1e1e" >(a)</text>
<line x1="324.1" y1="173.6" x2="328.4" y2="173.6" stroke="#5a5a5a" stroke-width="1.0" />
<text x="319.4" y="173.9" font-size="8.4" font-weight="bold" text-anchor="end" dominant-baseline="central" fill="#1e1e1e" >0.05</text>
<line x1="325.4" y1="168.45" x2="328.4" y2="168.45" stroke="#5a5a5a" stroke-width="1.0" />
<line x1="325.4" y1="163.3" x2="328.4" y2="163.3" stroke="#5a5a5a" stroke-width="1.0" />
<line x1="325.4" y1="158.15" x2="328.4" y2="158.15" stroke="#5a5a5a" stroke-width="1.0" />
<line x1="325.4" y1="153" x2="328.4" y2="153" stroke="#5a5a5a" stroke-width="1.0" />
<line x1="324.1" y1="147.85" x2="328.4" y2="147.85" stroke="#5a5a5a" stroke-width="1.0" />
<text x="319.4" y="148.15" font-size="8.4" font-weight="bold" text-anchor="end" dominant-baseline="central" fill="#1e1e1e" >0.10</text>
<line x1="325.4" y1="142.7" x2="328.4" y2="142.7" stroke="#5a5a5a" stroke-width="1.0" />
<line x1="325.4" y1="137.55" x2="328.4" y2="137.55" stroke="#5a5a5a" stroke-width="1.0" />
<line x1="325.4" y1="132.4" x2="328.4" y2="132.4" stroke="#5a5a5a" stroke-width="1.0" />
<line x1="325.4" y1="127.25" x2="328.4" y2="127.25" stroke="#5a5a5a" stroke-width="1.0" />
<line x1="324.1" y1="122.1" x2="328.4" y2="122.1" stroke="#5a5a5a" stroke-width="1.0" />
<text x="319.4" y="122.4" font-size="8.4" font-weight="bold" text-anchor="end" dominant-baseline="central" fill="#1e1e1e" >0.15</text>
<line x1="325.4" y1="116.95" x2="328.4" y2="116.95" stroke="#5a5a5a" stroke-width="1.0" />
<line x1="325.4" y1="111.8" x2="328.4" y2="111.8" stroke="#5a5a5a" stroke-width="1.0" />
<line x1="325.4" y1="106.65" x2="328.4" y2="106.65" stroke="#5a5a5a" stroke-width="1.0" />
<line x1="325.4" y1="101.5" x2="328.4" y2="101.5" stroke="#5a5a5a" stroke-width="1.0" />
<line x1="324.1" y1="96.35" x2="328.4" y2="96.35" stroke="#5a5a5a" stroke-width="1.0" />
<text x="319.4" y="96.65" font-size="8.4" font-weight="bold" text-anchor="end" dominant-baseline="central" fill="#1e1e1e" >0.20</text>
<line x1="325.4" y1="91.2" x2="328.4" y2="91.2" stroke="#5a5a5a" stroke-width="1.0" />
<line x1="325.4" y1="86.05" x2="328.4" y2="86.05" stroke="#5a5a5a" stroke-width="1.0" />
<line x1="325.4" y1="80.9" x2="328.4" y2="80.9" stroke="#5a5a5a" stroke-width="1.0" />
<line x1="325.4" y1="75.75" x2="328.4" y2="75.75" stroke="#5a5a5a" stroke-width="1.0" />
<line x1="324.1" y1="70.6" x2="328.4" y2="70.6" stroke="#5a5a5a" stroke-width="1.0" />
<text x="319.4" y="70.9" font-size="8.4" font-weight="bold" text-anchor="end" dominant-baseline="central" fill="#1e1e1e" >0.25</text>
<line x1="325.4" y1="65.45" x2="328.4" y2="65.45" stroke="#5a5a5a" stroke-width="1.0" />
<line x1="325.4" y1="60.3" x2="328.4" y2="60.3" stroke="#5a5a5a" stroke-width="1.0" />
<line x1="325.4" y1="55.15" x2="328.4" y2="55.15" stroke="#5a5a5a" stroke-width="1.0" />
<line x1="325.4" y1="50" x2="328.4" y2="50" stroke="#5a5a5a" stroke-width="1.0" />
<line x1="324.1" y1="44.85" x2="328.4" y2="44.85" stroke="#5a5a5a" stroke-width="1.0" />
<text x="319.4" y="45.15" font-size="8.4" font-weight="bold" text-anchor="end" dominant-baseline="central" fill="#1e1e1e" >0.30</text>
<line x1="325.4" y1="39.7" x2="328.4" y2="39.7" stroke="#5a5a5a" stroke-width="1.0" />
<line x1="325.4" y1="34.55" x2="328.4" y2="34.55" stroke="#5a5a5a" stroke-width="1.0" />
<line x1="325.4" y1="29.4" x2="328.4" y2="29.4" stroke="#5a5a5a" stroke-width="1.0" />
<line x1="325.4" y1="24.25" x2="328.4" y2="24.25" stroke="#5a5a5a" stroke-width="1.0" />
<line x1="324.1" y1="19.1" x2="328.4" y2="19.1" stroke="#5a5a5a" stroke-width="1.0" />
<text x="319.4" y="19.4" font-size="8.4" font-weight="bold" text-anchor="end" dominant-baseline="central" fill="#1e1e1e" >0.35</text>
<line x1="328.4" y1="173.6" x2="328.4" y2="176.6" stroke="#5a5a5a" stroke-width="1.0" />
<line x1="336.06" y1="173.6" x2="336.06" y2="176.6" stroke="#5a5a5a" stroke-width="1.0" />
<line x1="343.71" y1="173.6" x2="343.71" y2="177.9" stroke="#5a5a5a" stroke-width="1.0" />
<text x="343.71" y="188" font-size="8.4" font-weight="bold" text-anchor="middle" dominant-baseline="central" fill="#1e1e1e" >840</text>
<line x1="351.37" y1="173.6" x2="351.37" y2="176.6" stroke="#5a5a5a" stroke-width="1.0" />
<line x1="359.03" y1="173.6" x2="359.03" y2="176.6" stroke="#5a5a5a" stroke-width="1.0" />
<line x1="366.69" y1="173.6" x2="366.69" y2="176.6" stroke="#5a5a5a" stroke-width="1.0" />
<line x1="374.34" y1="173.6" x2="374.34" y2="177.9" stroke="#5a5a5a" stroke-width="1.0" />
<text x="374.34" y="188" font-size="8.4" font-weight="bold" text-anchor="middle" dominant-baseline="central" fill="#1e1e1e" >820</text>
<line x1="382" y1="173.6" x2="382" y2="176.6" stroke="#5a5a5a" stroke-width="1.0" />
<line x1="389.66" y1="173.6" x2="389.66" y2="176.6" stroke="#5a5a5a" stroke-width="1.0" />
<line x1="397.31" y1="173.6" x2="397.31" y2="176.6" stroke="#5a5a5a" stroke-width="1.0" />
<line x1="404.97" y1="173.6" x2="404.97" y2="177.9" stroke="#5a5a5a" stroke-width="1.0" />
<text x="404.97" y="188" font-size="8.4" font-weight="bold" text-anchor="middle" dominant-baseline="central" fill="#1e1e1e" >800</text>
<line x1="412.63" y1="173.6" x2="412.63" y2="176.6" stroke="#5a5a5a" stroke-width="1.0" />
<line x1="420.29" y1="173.6" x2="420.29" y2="176.6" stroke="#5a5a5a" stroke-width="1.0" />
<line x1="427.94" y1="173.6" x2="427.94" y2="176.6" stroke="#5a5a5a" stroke-width="1.0" />
<line x1="435.6" y1="173.6" x2="435.6" y2="177.9" stroke="#5a5a5a" stroke-width="1.0" />
<text x="435.6" y="188" font-size="8.4" font-weight="bold" text-anchor="middle" dominant-baseline="central" fill="#1e1e1e" >780</text>
<line x1="443.26" y1="173.6" x2="443.26" y2="176.6" stroke="#5a5a5a" stroke-width="1.0" />
<line x1="450.91" y1="173.6" x2="450.91" y2="176.6" stroke="#5a5a5a" stroke-width="1.0" />
<line x1="458.57" y1="173.6" x2="458.57" y2="176.6" stroke="#5a5a5a" stroke-width="1.0" />
<line x1="466.23" y1="173.6" x2="466.23" y2="177.9" stroke="#5a5a5a" stroke-width="1.0" />
<text x="466.23" y="188" font-size="8.4" font-weight="bold" text-anchor="middle" dominant-baseline="central" fill="#1e1e1e" >760</text>
<line x1="473.89" y1="173.6" x2="473.89" y2="176.6" stroke="#5a5a5a" stroke-width="1.0" />
<line x1="481.54" y1="173.6" x2="481.54" y2="176.6" stroke="#5a5a5a" stroke-width="1.0" />
<line x1="489.2" y1="173.6" x2="489.2" y2="176.6" stroke="#5a5a5a" stroke-width="1.0" />
<line x1="496.86" y1="173.6" x2="496.86" y2="177.9" stroke="#5a5a5a" stroke-width="1.0" />
<text x="496.86" y="188" font-size="8.4" font-weight="bold" text-anchor="middle" dominant-baseline="central" fill="#1e1e1e" >740</text>
<line x1="504.51" y1="173.6" x2="504.51" y2="176.6" stroke="#5a5a5a" stroke-width="1.0" />
<line x1="512.17" y1="173.6" x2="512.17" y2="176.6" stroke="#5a5a5a" stroke-width="1.0" />
<line x1="519.83" y1="173.6" x2="519.83" y2="176.6" stroke="#5a5a5a" stroke-width="1.0" />
<line x1="527.49" y1="173.6" x2="527.49" y2="177.9" stroke="#5a5a5a" stroke-width="1.0" />
<text x="527.49" y="188" font-size="8.4" font-weight="bold" text-anchor="middle" dominant-baseline="central" fill="#1e1e1e" >720</text>
<line x1="535.14" y1="173.6" x2="535.14" y2="176.6" stroke="#5a5a5a" stroke-width="1.0" />
<line x1="542.8" y1="173.6" x2="542.8" y2="176.6" stroke="#5a5a5a" stroke-width="1.0" />
<rect x="328.4" y="19.1" width="214.4" height="154.5" fill="none" stroke="#5a5a5a" stroke-width="1.1"/>
<line x1="410.5" y1="26" x2="451.5" y2="26" stroke="#000" stroke-width="1.45" />
<text x="461.2" y="25.8" font-size="7.2" font-weight="bold" text-anchor="start" dominant-baseline="central" fill="#1e1e1e" >Prior copolymerization</text>
<line x1="410.5" y1="35.6" x2="451.5" y2="35.6" stroke="#000" stroke-width="1.9" stroke-dasharray="0.01 3.1" stroke-linecap="round"/>
<text x="461.2" y="35.4" font-size="7.2" font-weight="bold" text-anchor="start" dominant-baseline="central" fill="#1e1e1e" >After 2 hours</text>
<line x1="410.5" y1="45.2" x2="451.5" y2="45.2" stroke="#000" stroke-width="1.3" stroke-dasharray="3.5 3.3" stroke-linecap="round"/>
<text x="461.2" y="45" font-size="7.2" font-weight="bold" text-anchor="start" dominant-baseline="central" fill="#1e1e1e" >After 4 hours</text>
<line x1="410.5" y1="54.8" x2="451.5" y2="54.8" stroke="#000" stroke-width="1.3" stroke-dasharray="5.3 2.7 0.01 2.7 0.01 2.7" stroke-linecap="round"/>
<text x="461.2" y="54.6" font-size="7.2" font-weight="bold" text-anchor="start" dominant-baseline="central" fill="#1e1e1e" >After 6 hours</text>
<text x="479.1" y="121.2" font-size="6.1" font-weight="bold" text-anchor="start" dominant-baseline="central" fill="#1e1e1e" >t = 6 h</text>
<text x="479.6" y="131.9" font-size="6.1" font-weight="bold" text-anchor="start" dominant-baseline="central" fill="#1e1e1e" >t = 4 h</text>
<text x="461.6" y="141.8" font-size="6.1" font-weight="bold" text-anchor="start" dominant-baseline="central" fill="#1e1e1e" >t = 2 h</text>
<text x="458.4" y="151.4" font-size="6.1" font-weight="bold" text-anchor="start" dominant-baseline="central" fill="#1e1e1e" >t = 0 h</text>
<path d="M328.4,85.6 C329.17,85.68 331.4,85.87 333,86.1 C334.6,86.33 336.43,86.87 338,87 C339.57,87.13 341.15,87.1 342.4,86.9 C343.65,86.7 344.48,86.38 345.5,85.8 C346.52,85.22 347.53,84.33 348.5,83.4 C349.47,82.47 350.25,81.33 351.3,80.2 C352.35,79.07 353.65,77.87 354.8,76.6 C355.95,75.33 357.07,73.87 358.2,72.6 C359.33,71.33 360.37,70.13 361.6,69 C362.83,67.87 364.27,66.8 365.6,65.8 C366.93,64.8 368.43,63.93 369.6,63 C370.77,62.07 371.6,61.1 372.6,60.2 C373.6,59.3 374.62,58.23 375.6,57.6 C376.58,56.97 377.43,56.47 378.5,56.4 C379.57,56.33 381,56.6 382,57.2 C383,57.8 383.67,58.62 384.5,60 C385.33,61.38 386.15,63.25 387,65.5 C387.85,67.75 388.63,70.25 389.6,73.5 C390.57,76.75 391.68,81.42 392.8,85 C393.92,88.58 395.1,92 396.3,95 C397.5,98 398.68,100.83 400,103 C401.32,105.17 402.78,106.47 404.2,108 C405.62,109.53 407.08,111.1 408.5,112.2 C409.92,113.3 411.28,113.83 412.7,114.6 C414.12,115.37 415.58,116.03 417,116.8 C418.42,117.57 419.78,118.5 421.2,119.2 C422.62,119.9 424.08,120.47 425.5,121 C426.92,121.53 428.12,122.03 429.7,122.4 C431.28,122.77 433.1,123 435,123.2 C436.9,123.4 439.23,123.23 441.1,123.6 C442.97,123.97 444.65,124.6 446.2,125.4 C447.75,126.2 448.98,127.37 450.4,128.4 C451.82,129.43 453.28,130.87 454.7,131.6 C456.12,132.33 457.35,132.9 458.9,132.8 C460.45,132.7 462.5,131.62 464,131 C465.5,130.38 466.18,129.87 467.9,129.1 C469.62,128.33 472.6,126.85 474.3,126.4 C476,125.95 477.03,125.95 478.1,126.4 C479.17,126.85 479.85,127.62 480.7,129.1 C481.55,130.58 482.35,132.98 483.2,135.3 C484.05,137.62 484.73,140.22 485.8,143 C486.87,145.78 488.12,149.47 489.6,152 C491.08,154.53 492.8,156.63 494.7,158.2 C496.6,159.77 499.43,160.77 501,161.4 C502.57,162.03 502.37,161.57 504.1,162 C505.83,162.43 509.35,163.45 511.4,164 C513.45,164.55 514.58,165.4 516.4,165.3 C518.22,165.2 520.12,164.22 522.3,163.4 C524.48,162.58 527.23,161.07 529.5,160.4 C531.77,159.73 533.72,159.72 535.9,159.4 C538.08,159.08 541.48,158.65 542.6,158.5" fill="none" stroke="#000" stroke-width="1.3" stroke-linejoin="round" stroke-dasharray="5.3 2.7 0.01 2.7 0.01 2.7" stroke-linecap="round"/>
<path d="M328.4,89.2 C329.17,89.3 331.4,89.53 333,89.8 C334.6,90.07 336.43,90.67 338,90.8 C339.57,90.93 341.15,90.83 342.4,90.6 C343.65,90.37 344.48,90.13 345.5,89.4 C346.52,88.67 347.53,87.43 348.5,86.2 C349.47,84.97 350.25,83.47 351.3,82 C352.35,80.53 353.65,78.92 354.8,77.4 C355.95,75.88 357.07,74.32 358.2,72.9 C359.33,71.48 360.37,70.13 361.6,68.9 C362.83,67.67 364.27,66.6 365.6,65.5 C366.93,64.4 368.43,63.48 369.6,62.3 C370.77,61.12 371.6,59.68 372.6,58.4 C373.6,57.12 374.57,55.55 375.6,54.6 C376.63,53.65 377.73,52.87 378.8,52.7 C379.87,52.53 381.05,52.88 382,53.6 C382.95,54.32 383.67,55.27 384.5,57 C385.33,58.73 386.15,61.25 387,64 C387.85,66.75 388.63,69.92 389.6,73.5 C390.57,77.08 391.68,81.82 392.8,85.5 C393.92,89.18 395.1,92.52 396.3,95.6 C397.5,98.68 398.68,101.77 400,104 C401.32,106.23 402.78,107.47 404.2,109 C405.62,110.53 407.08,112.1 408.5,113.2 C409.92,114.3 411.28,114.83 412.7,115.6 C414.12,116.37 415.58,117.03 417,117.8 C418.42,118.57 419.78,119.5 421.2,120.2 C422.62,120.9 424.08,121.47 425.5,122 C426.92,122.53 428.12,123.03 429.7,123.4 C431.28,123.77 433.1,124 435,124.2 C436.9,124.4 439.23,124.2 441.1,124.6 C442.97,125 444.65,125.73 446.2,126.6 C447.75,127.47 448.98,128.73 450.4,129.8 C451.82,130.87 453.28,132.2 454.7,133 C456.12,133.8 457.35,134.5 458.9,134.6 C460.45,134.7 462.5,134.1 464,133.6 C465.5,133.1 466.57,132.08 467.9,131.6 C469.23,131.12 470.72,130.9 472,130.7 C473.28,130.5 474.43,130.3 475.6,130.4 C476.77,130.5 478.02,130.7 479,131.3 C479.98,131.9 480.67,132.55 481.5,134 C482.33,135.45 483.17,137.83 484,140 C484.83,142.17 485.57,144.8 486.5,147 C487.43,149.2 488.23,151.23 489.6,153.2 C490.97,155.17 492.8,157.37 494.7,158.8 C496.6,160.23 499.43,161.22 501,161.8 C502.57,162.38 502.37,161.9 504.1,162.3 C505.83,162.7 509.35,163.67 511.4,164.2 C513.45,164.73 514.58,165.6 516.4,165.5 C518.22,165.4 520.12,164.42 522.3,163.6 C524.48,162.78 527.23,161.27 529.5,160.6 C531.77,159.93 533.72,159.92 535.9,159.6 C538.08,159.28 541.48,158.85 542.6,158.7" fill="none" stroke="#000" stroke-width="1.3" stroke-linejoin="round" stroke-dasharray="3.5 3.3" stroke-linecap="round"/>
<path d="M328.4,93.4 C329.17,93.5 331.4,93.72 333,94 C334.6,94.28 336.43,94.95 338,95.1 C339.57,95.25 341.15,95.18 342.4,94.9 C343.65,94.62 344.48,94.35 345.5,93.4 C346.52,92.45 347.53,90.83 348.5,89.2 C349.47,87.57 350.25,85.5 351.3,83.6 C352.35,81.7 353.65,79.6 354.8,77.8 C355.95,76 357.07,74.3 358.2,72.8 C359.33,71.3 360.37,70.05 361.6,68.8 C362.83,67.55 364.27,66.47 365.6,65.3 C366.93,64.13 368.43,63.15 369.6,61.8 C370.77,60.45 371.6,59.13 372.6,57.2 C373.6,55.27 374.5,52.03 375.6,50.2 C376.7,48.37 378.13,46.67 379.2,46.2 C380.27,45.73 381.12,46.27 382,47.4 C382.88,48.53 383.67,50.32 384.5,53 C385.33,55.68 386.15,59.97 387,63.5 C387.85,67.03 388.63,70.42 389.6,74.2 C390.57,77.98 391.68,82.5 392.8,86.2 C393.92,89.9 395.1,93.27 396.3,96.4 C397.5,99.53 398.68,102.7 400,105 C401.32,107.3 402.78,108.63 404.2,110.2 C405.62,111.77 407.08,113.3 408.5,114.4 C409.92,115.5 411.28,116.03 412.7,116.8 C414.12,117.57 415.58,118.23 417,119 C418.42,119.77 419.78,120.7 421.2,121.4 C422.62,122.1 424.08,122.67 425.5,123.2 C426.92,123.73 428.12,124.23 429.7,124.6 C431.28,124.97 433.1,125.2 435,125.4 C436.9,125.6 439.23,125.4 441.1,125.8 C442.97,126.2 444.65,126.9 446.2,127.8 C447.75,128.7 448.98,130 450.4,131.2 C451.82,132.4 453.28,134.03 454.7,135 C456.12,135.97 457.35,136.57 458.9,137 C460.45,137.43 462.5,137.53 464,137.6 C465.5,137.67 466.6,137.4 467.9,137.4 C469.2,137.4 470.52,137.47 471.8,137.6 C473.08,137.73 474.48,137.87 475.6,138.2 C476.72,138.53 477.65,139 478.5,139.6 C479.35,140.2 479.7,140.37 480.7,141.8 C481.7,143.23 483.23,146.28 484.5,148.2 C485.77,150.12 486.6,151.5 488.3,153.3 C490,155.1 492.58,157.55 494.7,159 C496.82,160.45 499.43,161.4 501,162 C502.57,162.6 502.37,162.2 504.1,162.6 C505.83,163 509.35,163.88 511.4,164.4 C513.45,164.92 514.58,165.8 516.4,165.7 C518.22,165.6 520.12,164.62 522.3,163.8 C524.48,162.98 527.23,161.47 529.5,160.8 C531.77,160.13 533.72,160.12 535.9,159.8 C538.08,159.48 541.48,159.05 542.6,158.9" fill="none" stroke="#000" stroke-width="1.65" stroke-linejoin="round" stroke-dasharray="0.01 3.1" stroke-linecap="round"/>
<path d="M328.4,99.6 C329.17,99.73 331.4,100.1 333,100.4 C334.6,100.7 336.43,101.25 338,101.4 C339.57,101.55 341.15,101.65 342.4,101.3 C343.65,100.95 344.48,100.62 345.5,99.3 C346.52,97.98 347.53,95.57 348.5,93.4 C349.47,91.23 350.25,88.77 351.3,86.3 C352.35,83.83 353.65,80.82 354.8,78.6 C355.95,76.38 357.07,74.65 358.2,73 C359.33,71.35 360.37,70 361.6,68.7 C362.83,67.4 364.27,66.38 365.6,65.2 C366.93,64.02 368.43,63.13 369.6,61.6 C370.77,60.07 371.55,58.47 372.6,56 C373.65,53.53 374.8,49.42 375.9,46.8 C377,44.18 378.15,41.02 379.2,40.3 C380.25,39.58 381.42,41.13 382.2,42.5 C382.98,43.87 383.23,45.5 383.9,48.5 C384.57,51.5 385.4,56.5 386.2,60.5 C387,64.5 387.72,68.22 388.7,72.5 C389.68,76.78 390.83,81.87 392.1,86.2 C393.37,90.53 394.98,95.1 396.3,98.5 C397.62,101.9 398.68,104.12 400,106.6 C401.32,109.08 402.78,111.62 404.2,113.4 C405.62,115.18 407.08,116.27 408.5,117.3 C409.92,118.33 411.28,118.83 412.7,119.6 C414.12,120.37 415.58,121.13 417,121.9 C418.42,122.67 419.78,123.48 421.2,124.2 C422.62,124.92 424.08,125.58 425.5,126.2 C426.92,126.82 428.28,127.43 429.7,127.9 C431.12,128.37 432.18,128.58 434,129 C435.82,129.42 438.57,129.83 440.6,130.4 C442.63,130.97 444.57,131.6 446.2,132.4 C447.83,133.2 448.98,134.07 450.4,135.2 C451.82,136.33 453.28,137.93 454.7,139.2 C456.12,140.47 457.68,141.87 458.9,142.8 C460.12,143.73 460.7,144.22 462,144.8 C463.3,145.38 465.07,145.8 466.7,146.3 C468.33,146.8 470.12,147.05 471.8,147.8 C473.48,148.55 475.12,149.48 476.8,150.8 C478.48,152.12 480.2,154.13 481.9,155.7 C483.6,157.27 485.08,158.9 487,160.2 C488.92,161.5 491.27,162.72 493.4,163.5 C495.53,164.28 498.02,164.5 499.8,164.9 C501.58,165.3 502.17,165.5 504.1,165.9 C506.03,166.3 509.35,166.95 511.4,167.3 C513.45,167.65 514.58,168.22 516.4,168 C518.22,167.78 520.12,166.77 522.3,166 C524.48,165.23 527.23,164 529.5,163.4 C531.77,162.8 533.72,162.73 535.9,162.4 C538.08,162.07 541.48,161.57 542.6,161.4" fill="none" stroke="#000" stroke-width="1.45" stroke-linejoin="round" />
<line x1="379.6" y1="30.1" x2="379.6" y2="14" stroke="#111" stroke-width="1.5" stroke-dasharray="3.6 2.2"/>
<path d="M379.6,36.6 L377.8,30.4 L381.4,30.4 Z" fill="#111"/>
<path d="M377.9,29.7 L376.4,25.6 M381.3,29.7 L382.8,25.6" stroke="#111" stroke-width="1.1" fill="none"/>
<text x="363.8" y="11.6" font-size="7.2" font-weight="bold" fill="#1e1e1e" text-anchor="start">816 cm<tspan font-size="6.05" dy="-2.6">-1</tspan></text>
<line x1="476.6" y1="108.1" x2="476.6" y2="122.5" stroke="#111" stroke-width="1.5" stroke-dasharray="3.6 2.2"/>
<path d="M476.6,101.6 L474.8,107.8 L478.4,107.8 Z" fill="#111"/>
<path d="M474.9,108.5 L473.4,112.6 M478.3,108.5 L479.8,112.6" stroke="#111" stroke-width="1.1" fill="none"/>
<text x="465.1" y="98.2" font-size="7.2" font-weight="bold" fill="#1e1e1e" text-anchor="start">753 cm<tspan font-size="6.05" dy="-2.6">-1</tspan></text>
<text x="434.9" y="206.6" font-size="9.9" font-weight="bold" fill="#1e1e1e" text-anchor="middle">Wavenumber [cm<tspan font-size="8" dy="-3.2">-1</tspan><tspan dy="3.2">]</tspan></text>
<text x="0" y="0" font-size="9.3" font-weight="bold" fill="#1e1e1e" text-anchor="middle" dominant-baseline="central" transform="translate(291.8,96) rotate(-90)">Intensity [A.U.]</text>
<text x="427.6" y="216.7" font-size="12" font-weight="bold" text-anchor="middle" dominant-baseline="central" fill="#1e1e1e" >(b)</text>
<line x1="181.3" y1="418.7" x2="185.6" y2="418.7" stroke="#5a5a5a" stroke-width="1.0" />
<text x="176.6" y="419" font-size="8.4" font-weight="bold" text-anchor="end" dominant-baseline="central" fill="#1e1e1e" >0.1</text>
<line x1="182.6" y1="412.5" x2="185.6" y2="412.5" stroke="#5a5a5a" stroke-width="1.0" />
<line x1="182.6" y1="406.29" x2="185.6" y2="406.29" stroke="#5a5a5a" stroke-width="1.0" />
<line x1="182.6" y1="400.09" x2="185.6" y2="400.09" stroke="#5a5a5a" stroke-width="1.0" />
<line x1="182.6" y1="393.88" x2="185.6" y2="393.88" stroke="#5a5a5a" stroke-width="1.0" />
<line x1="181.3" y1="387.68" x2="185.6" y2="387.68" stroke="#5a5a5a" stroke-width="1.0" />
<text x="176.6" y="387.98" font-size="8.4" font-weight="bold" text-anchor="end" dominant-baseline="central" fill="#1e1e1e" >0.2</text>
<line x1="182.6" y1="381.48" x2="185.6" y2="381.48" stroke="#5a5a5a" stroke-width="1.0" />
<line x1="182.6" y1="375.27" x2="185.6" y2="375.27" stroke="#5a5a5a" stroke-width="1.0" />
<line x1="182.6" y1="369.07" x2="185.6" y2="369.07" stroke="#5a5a5a" stroke-width="1.0" />
<line x1="182.6" y1="362.86" x2="185.6" y2="362.86" stroke="#5a5a5a" stroke-width="1.0" />
<line x1="181.3" y1="356.66" x2="185.6" y2="356.66" stroke="#5a5a5a" stroke-width="1.0" />
<text x="176.6" y="356.96" font-size="8.4" font-weight="bold" text-anchor="end" dominant-baseline="central" fill="#1e1e1e" >0.3</text>
<line x1="182.6" y1="350.46" x2="185.6" y2="350.46" stroke="#5a5a5a" stroke-width="1.0" />
<line x1="182.6" y1="344.25" x2="185.6" y2="344.25" stroke="#5a5a5a" stroke-width="1.0" />
<line x1="182.6" y1="338.05" x2="185.6" y2="338.05" stroke="#5a5a5a" stroke-width="1.0" />
<line x1="182.6" y1="331.84" x2="185.6" y2="331.84" stroke="#5a5a5a" stroke-width="1.0" />
<line x1="181.3" y1="325.64" x2="185.6" y2="325.64" stroke="#5a5a5a" stroke-width="1.0" />
<text x="176.6" y="325.94" font-size="8.4" font-weight="bold" text-anchor="end" dominant-baseline="central" fill="#1e1e1e" >0.4</text>
<line x1="182.6" y1="319.44" x2="185.6" y2="319.44" stroke="#5a5a5a" stroke-width="1.0" />
<line x1="182.6" y1="313.23" x2="185.6" y2="313.23" stroke="#5a5a5a" stroke-width="1.0" />
<line x1="182.6" y1="307.03" x2="185.6" y2="307.03" stroke="#5a5a5a" stroke-width="1.0" />
<line x1="182.6" y1="300.82" x2="185.6" y2="300.82" stroke="#5a5a5a" stroke-width="1.0" />
<line x1="181.3" y1="294.62" x2="185.6" y2="294.62" stroke="#5a5a5a" stroke-width="1.0" />
<text x="176.6" y="294.92" font-size="8.4" font-weight="bold" text-anchor="end" dominant-baseline="central" fill="#1e1e1e" >0.5</text>
<line x1="182.6" y1="288.42" x2="185.6" y2="288.42" stroke="#5a5a5a" stroke-width="1.0" />
<line x1="182.6" y1="282.21" x2="185.6" y2="282.21" stroke="#5a5a5a" stroke-width="1.0" />
<line x1="182.6" y1="276.01" x2="185.6" y2="276.01" stroke="#5a5a5a" stroke-width="1.0" />
<line x1="182.6" y1="269.8" x2="185.6" y2="269.8" stroke="#5a5a5a" stroke-width="1.0" />
<line x1="181.3" y1="263.6" x2="185.6" y2="263.6" stroke="#5a5a5a" stroke-width="1.0" />
<text x="176.6" y="263.9" font-size="8.4" font-weight="bold" text-anchor="end" dominant-baseline="central" fill="#1e1e1e" >0.6</text>
<line x1="185.6" y1="418.7" x2="185.6" y2="421.7" stroke="#5a5a5a" stroke-width="1.0" />
<line x1="196.86" y1="418.7" x2="196.86" y2="421.7" stroke="#5a5a5a" stroke-width="1.0" />
<line x1="208.13" y1="418.7" x2="208.13" y2="421.7" stroke="#5a5a5a" stroke-width="1.0" />
<line x1="219.39" y1="418.7" x2="219.39" y2="423" stroke="#5a5a5a" stroke-width="1.0" />
<text x="219.39" y="433.2" font-size="8.4" font-weight="bold" text-anchor="middle" dominant-baseline="central" fill="#1e1e1e" >1160</text>
<line x1="230.65" y1="418.7" x2="230.65" y2="421.7" stroke="#5a5a5a" stroke-width="1.0" />
<line x1="241.92" y1="418.7" x2="241.92" y2="421.7" stroke="#5a5a5a" stroke-width="1.0" />
<line x1="253.18" y1="418.7" x2="253.18" y2="421.7" stroke="#5a5a5a" stroke-width="1.0" />
<line x1="264.44" y1="418.7" x2="264.44" y2="423" stroke="#5a5a5a" stroke-width="1.0" />
<text x="264.44" y="433.2" font-size="8.4" font-weight="bold" text-anchor="middle" dominant-baseline="central" fill="#1e1e1e" >1140</text>
<line x1="275.71" y1="418.7" x2="275.71" y2="421.7" stroke="#5a5a5a" stroke-width="1.0" />
<line x1="286.97" y1="418.7" x2="286.97" y2="421.7" stroke="#5a5a5a" stroke-width="1.0" />
<line x1="298.23" y1="418.7" x2="298.23" y2="421.7" stroke="#5a5a5a" stroke-width="1.0" />
<line x1="309.49" y1="418.7" x2="309.49" y2="423" stroke="#5a5a5a" stroke-width="1.0" />
<text x="309.49" y="433.2" font-size="8.4" font-weight="bold" text-anchor="middle" dominant-baseline="central" fill="#1e1e1e" >1120</text>
<line x1="320.76" y1="418.7" x2="320.76" y2="421.7" stroke="#5a5a5a" stroke-width="1.0" />
<line x1="332.02" y1="418.7" x2="332.02" y2="421.7" stroke="#5a5a5a" stroke-width="1.0" />
<line x1="343.28" y1="418.7" x2="343.28" y2="421.7" stroke="#5a5a5a" stroke-width="1.0" />
<line x1="354.55" y1="418.7" x2="354.55" y2="423" stroke="#5a5a5a" stroke-width="1.0" />
<text x="354.55" y="433.2" font-size="8.4" font-weight="bold" text-anchor="middle" dominant-baseline="central" fill="#1e1e1e" >1100</text>
<line x1="365.81" y1="418.7" x2="365.81" y2="421.7" stroke="#5a5a5a" stroke-width="1.0" />
<line x1="377.07" y1="418.7" x2="377.07" y2="421.7" stroke="#5a5a5a" stroke-width="1.0" />
<line x1="388.34" y1="418.7" x2="388.34" y2="421.7" stroke="#5a5a5a" stroke-width="1.0" />
<line x1="399.6" y1="418.7" x2="399.6" y2="423" stroke="#5a5a5a" stroke-width="1.0" />
<text x="399.6" y="433.2" font-size="8.4" font-weight="bold" text-anchor="middle" dominant-baseline="central" fill="#1e1e1e" >1080</text>
<rect x="185.6" y="263.6" width="214" height="155.1" fill="none" stroke="#5a5a5a" stroke-width="1.1"/>
<line x1="266.6" y1="270.5" x2="307.6" y2="270.5" stroke="#000" stroke-width="1.45" />
<text x="317.5" y="270.3" font-size="7.2" font-weight="bold" text-anchor="start" dominant-baseline="central" fill="#1e1e1e" >Prior copolymerization</text>
<line x1="266.6" y1="280.1" x2="307.6" y2="280.1" stroke="#000" stroke-width="1.9" stroke-dasharray="0.01 3.1" stroke-linecap="round"/>
<text x="317.5" y="279.9" font-size="7.2" font-weight="bold" text-anchor="start" dominant-baseline="central" fill="#1e1e1e" >After 2 hours</text>
<line x1="266.6" y1="289.7" x2="307.6" y2="289.7" stroke="#000" stroke-width="1.3" stroke-dasharray="3.5 3.3" stroke-linecap="round"/>
<text x="317.5" y="289.5" font-size="7.2" font-weight="bold" text-anchor="start" dominant-baseline="central" fill="#1e1e1e" >After 4 hours</text>
<line x1="266.6" y1="299.3" x2="307.6" y2="299.3" stroke="#000" stroke-width="1.3" stroke-dasharray="5.3 2.7 0.01 2.7 0.01 2.7" stroke-linecap="round"/>
<text x="317.5" y="299.1" font-size="7.2" font-weight="bold" text-anchor="start" dominant-baseline="central" fill="#1e1e1e" >After 6 hours</text>
<text x="296.5" y="374.4" font-size="6.1" font-weight="bold" text-anchor="start" dominant-baseline="central" fill="#1e1e1e" >t = 6 h</text>
<text x="283.6" y="386" font-size="6.1" font-weight="bold" text-anchor="start" dominant-baseline="central" fill="#1e1e1e" >t = 4 h</text>
<text x="283.6" y="393.2" font-size="6.1" font-weight="bold" text-anchor="start" dominant-baseline="central" fill="#1e1e1e" >t = 2 h</text>
<text x="283.1" y="401.8" font-size="6.1" font-weight="bold" text-anchor="start" dominant-baseline="central" fill="#1e1e1e" >t = 0 h</text>
<g clip-path="url(#cc)">
<path d="M185.8,338.5 C186.28,338.22 187.43,338.45 188.7,336.8 C189.97,335.15 191.85,331.33 193.4,328.6 C194.95,325.87 196.53,322.6 198,320.4 C199.47,318.2 200.77,317.07 202.2,315.4 C203.63,313.73 204.85,311.6 206.6,310.4 C208.35,309.2 210.68,308.02 212.7,308.2 C214.72,308.38 216.97,310.3 218.7,311.5 C220.43,312.7 221.45,313.92 223.1,315.4 C224.75,316.88 227.03,319.13 228.6,320.4 C230.17,321.67 231.23,322.23 232.5,323 C233.77,323.77 234.73,324.25 236.2,325 C237.67,325.75 239.67,326.5 241.3,327.5 C242.93,328.5 244.4,329.35 246,331 C247.6,332.65 248.85,334.35 250.9,337.4 C252.95,340.45 255.95,345.28 258.3,349.3 C260.65,353.32 263.08,358.3 265,361.5 C266.92,364.7 268.02,366.53 269.8,368.5 C271.58,370.47 273.55,371.95 275.7,373.3 C277.85,374.65 280.37,375.68 282.7,376.6 C285.03,377.52 287.37,378.27 289.7,378.8 C292.03,379.33 294.37,379.67 296.7,379.8 C299.03,379.93 301.87,379.83 303.7,379.6 C305.53,379.37 305.77,378.97 307.7,378.4 C309.63,377.83 312.75,377.1 315.3,376.2 C317.85,375.3 320.45,374.25 323,373 C325.55,371.75 328.05,370.23 330.6,368.7 C333.15,367.17 335.73,365.47 338.3,363.8 C340.87,362.13 343.98,360.12 346,358.7 C348.02,357.28 348.95,356.58 350.4,355.3 C351.85,354.02 353.07,352.63 354.7,351 C356.33,349.37 358.57,347.42 360.2,345.5 C361.83,343.58 363.08,341.48 364.5,339.5 C365.92,337.52 367.28,335.63 368.7,333.6 C370.12,331.57 371.7,329.27 373,327.3 C374.3,325.33 375.2,323.93 376.5,321.8 C377.8,319.67 379.3,317.1 380.8,314.5 C382.3,311.9 383.92,309.17 385.5,306.2 C387.08,303.23 388.9,299.88 390.3,296.7 C391.7,293.52 392.98,290.22 393.9,287.1 C394.82,283.98 395.18,281.02 395.8,278 C396.42,274.98 397.07,271.25 397.6,269 C398.13,266.75 398.77,265.25 399,264.5" fill="none" stroke="#000" stroke-width="1.3" stroke-linejoin="round" stroke-dasharray="5.3 2.7 0.01 2.7 0.01 2.7" stroke-linecap="round"/>
<path d="M185.8,338.5 C186.47,337.25 188.33,334 189.8,331 C191.27,328 192.98,323.75 194.6,320.5 C196.22,317.25 198.02,314 199.5,311.5 C200.98,309 202.17,307.08 203.5,305.5 C204.83,303.92 206.07,302.83 207.5,302 C208.93,301.17 210.6,300.5 212.1,300.5 C213.6,300.5 215.1,301.08 216.5,302 C217.9,302.92 219.17,304.25 220.5,306 C221.83,307.75 223.15,310.1 224.5,312.5 C225.85,314.9 227.27,318.23 228.6,320.4 C229.93,322.57 231.1,323.93 232.5,325.5 C233.9,327.07 235.53,328.47 237,329.8 C238.47,331.13 239.88,331.98 241.3,333.5 C242.72,335.02 243.9,336.77 245.5,338.9 C247.1,341.03 248.77,343.37 250.9,346.3 C253.03,349.23 255.95,352.88 258.3,356.5 C260.65,360.12 263.08,364.8 265,368 C266.92,371.2 268.02,373.83 269.8,375.7 C271.58,377.57 273.55,378.23 275.7,379.2 C277.85,380.17 280.37,380.83 282.7,381.5 C285.03,382.17 287.37,382.82 289.7,383.2 C292.03,383.58 294.37,383.8 296.7,383.8 C299.03,383.8 301.87,383.42 303.7,383.2 C305.53,382.98 305.77,383.12 307.7,382.5 C309.63,381.88 312.75,380.63 315.3,379.5 C317.85,378.37 320.45,377.07 323,375.7 C325.55,374.33 328.05,372.9 330.6,371.3 C333.15,369.7 335.75,367.82 338.3,366.1 C340.85,364.38 343.88,362.38 345.9,361 C347.92,359.62 348.93,359 350.4,357.8 C351.87,356.6 353.07,355.43 354.7,353.8 C356.33,352.17 358.57,349.97 360.2,348 C361.83,346.03 363.08,344 364.5,342 C365.92,340 367.28,338.03 368.7,336 C370.12,333.97 371.7,331.77 373,329.8 C374.3,327.83 375.2,326.33 376.5,324.2 C377.8,322.07 379.3,319.62 380.8,317 C382.3,314.38 383.92,311.53 385.5,308.5 C387.08,305.47 388.9,301.97 390.3,298.8 C391.7,295.63 392.98,292.63 393.9,289.5 C394.82,286.37 395.18,283.17 395.8,280 C396.42,276.83 397.03,273 397.6,270.5 C398.17,268 398.93,265.92 399.2,265" fill="none" stroke="#000" stroke-width="1.3" stroke-linejoin="round" stroke-dasharray="3.5 3.3" stroke-linecap="round"/>
<path d="M185.8,338.5 C186.47,337 188.33,333.17 189.8,329.5 C191.27,325.83 193.02,320.62 194.6,316.5 C196.18,312.38 197.93,307.93 199.3,304.8 C200.67,301.67 201.58,299.83 202.8,297.7 C204.02,295.57 205.05,293.28 206.6,292 C208.15,290.72 210.17,289.63 212.1,290 C214.03,290.37 216.7,292.43 218.2,294.2 C219.7,295.97 219.97,298.05 221.1,300.6 C222.23,303.15 223.75,306.2 225,309.5 C226.25,312.8 227.45,317.62 228.6,320.4 C229.75,323.18 230.78,324.1 231.9,326.2 C233.02,328.3 234.17,330.73 235.3,333 C236.43,335.27 237.42,337.53 238.7,339.8 C239.98,342.07 241.87,344.82 243,346.6 C244.13,348.38 244.18,348.52 245.5,350.5 C246.82,352.48 248.77,355.67 250.9,358.5 C253.03,361.33 255.95,364.5 258.3,367.5 C260.65,370.5 263.08,374.17 265,376.5 C266.92,378.83 268.02,380.08 269.8,381.5 C271.58,382.92 273.55,384 275.7,385 C277.85,386 280.37,386.92 282.7,387.5 C285.03,388.08 287.37,388.3 289.7,388.5 C292.03,388.7 294.37,388.78 296.7,388.7 C299.03,388.62 301.87,388.35 303.7,388 C305.53,387.65 305.77,387.37 307.7,386.6 C309.63,385.83 312.75,384.68 315.3,383.4 C317.85,382.12 320.45,380.5 323,378.9 C325.55,377.3 328.05,375.5 330.6,373.8 C333.15,372.1 335.75,370.4 338.3,368.7 C340.85,367 343.88,365 345.9,363.6 C347.92,362.2 348.93,361.52 350.4,360.3 C351.87,359.08 353.07,357.93 354.7,356.3 C356.33,354.67 358.57,352.47 360.2,350.5 C361.83,348.53 363.08,346.5 364.5,344.5 C365.92,342.5 367.28,340.55 368.7,338.5 C370.12,336.45 371.7,334.2 373,332.2 C374.3,330.2 375.2,328.65 376.5,326.5 C377.8,324.35 379.3,321.88 380.8,319.3 C382.3,316.72 383.92,314.05 385.5,311 C387.08,307.95 388.9,304.25 390.3,301 C391.7,297.75 392.98,294.58 393.9,291.5 C394.82,288.42 395.18,285.58 395.8,282.5 C396.42,279.42 397.02,275.83 397.6,273 C398.18,270.17 399.02,266.75 399.3,265.5" fill="none" stroke="#000" stroke-width="1.65" stroke-linejoin="round" stroke-dasharray="0.01 3.1" stroke-linecap="round"/>
<path d="M185.8,338 C186.28,336.73 187.63,333.15 188.7,330.4 C189.77,327.65 191.03,324.65 192.2,321.5 C193.37,318.35 194.53,315 195.7,311.5 C196.87,308 198.12,303.92 199.2,300.5 C200.28,297.08 201.15,293.92 202.2,291 C203.25,288.08 204.45,285.03 205.5,283 C206.55,280.97 207.48,279.83 208.5,278.8 C209.52,277.77 210.6,277 211.6,276.8 C212.6,276.6 213.5,276.82 214.5,277.6 C215.5,278.38 216.72,279.93 217.6,281.5 C218.48,283.07 219.1,284.95 219.8,287 C220.5,289.05 220.95,290.72 221.8,293.8 C222.65,296.88 223.95,301.88 224.9,305.5 C225.85,309.12 226.68,312.48 227.5,315.5 C228.32,318.52 229.03,320.92 229.8,323.6 C230.57,326.28 231.32,329 232.1,331.6 C232.88,334.2 233.4,336.22 234.5,339.2 C235.6,342.18 237.47,346.53 238.7,349.5 C239.93,352.47 240.77,354.5 241.9,357 C243.03,359.5 244,361.67 245.5,364.5 C247,367.33 248.77,370.83 250.9,374 C253.03,377.17 256.12,381.08 258.3,383.5 C260.48,385.92 262.08,386.98 264,388.5 C265.92,390.02 267.85,391.53 269.8,392.6 C271.75,393.67 273.55,394.23 275.7,394.9 C277.85,395.57 280.37,396.22 282.7,396.6 C285.03,396.98 287.37,397.1 289.7,397.2 C292.03,397.3 294.37,397.37 296.7,397.2 C299.03,397.03 301.87,396.65 303.7,396.2 C305.53,395.75 305.77,395.37 307.7,394.5 C309.63,393.63 312.75,392.32 315.3,391 C317.85,389.68 320.45,388.18 323,386.6 C325.55,385.02 328.43,383.17 330.6,381.5 C332.77,379.83 334.4,378.07 336,376.6 C337.6,375.13 338.78,373.93 340.2,372.7 C341.62,371.47 343.08,370.42 344.5,369.2 C345.92,367.98 347.28,366.73 348.7,365.4 C350.12,364.07 351.78,362.37 353,361.2 C354.22,360.03 354.8,359.75 356,358.4 C357.2,357.05 358.78,354.97 360.2,353.1 C361.62,351.23 363.08,349.18 364.5,347.2 C365.92,345.22 367.28,343.18 368.7,341.2 C370.12,339.22 371.78,337 373,335.3 C374.22,333.6 374.7,332.88 376,331 C377.3,329.12 379.22,326.55 380.8,324 C382.38,321.45 383.92,318.87 385.5,315.7 C387.08,312.53 388.9,308.57 390.3,305 C391.7,301.43 393.02,297.3 393.9,294.3 C394.78,291.3 394.98,289.63 395.6,287 C396.22,284.37 396.97,281.1 397.6,278.5 C398.23,275.9 398.95,273.65 399.4,271.4 C399.85,269.15 400.15,266.07 400.3,265" fill="none" stroke="#000" stroke-width="1.45" stroke-linejoin="round" />
</g>
<line x1="211.8" y1="269.1" x2="211.8" y2="252.8" stroke="#111" stroke-width="1.5" stroke-dasharray="3.6 2.2"/>
<path d="M211.8,275.6 L210,269.4 L213.6,269.4 Z" fill="#111"/>
<path d="M210.1,268.7 L208.6,264.6 M213.5,268.7 L215,264.6" stroke="#111" stroke-width="1.1" fill="none"/>
<text x="196" y="251.8" font-size="7.3" font-weight="bold" fill="#1e1e1e" text-anchor="start">1163 cm<tspan font-size="6.13" dy="-2.6">-1</tspan></text>
<line x1="245.8" y1="313.9" x2="245.8" y2="327.8" stroke="#111" stroke-width="1.5" stroke-dasharray="3.6 2.2"/>
<path d="M245.8,307.4 L244,313.6 L247.6,313.6 Z" fill="#111"/>
<path d="M244.1,314.3 L242.6,318.4 M247.5,314.3 L249,318.4" stroke="#111" stroke-width="1.1" fill="none"/>
<text x="230.2" y="304.4" font-size="7.3" font-weight="bold" fill="#1e1e1e" text-anchor="start">1148 cm<tspan font-size="6.13" dy="-2.6">-1</tspan></text>
<line x1="292.5" y1="363.9" x2="292.5" y2="376" stroke="#111" stroke-width="1.5" stroke-dasharray="3.6 2.2"/>
<path d="M292.5,357.4 L290.7,363.6 L294.3,363.6 Z" fill="#111"/>
<path d="M290.8,364.3 L289.3,368.4 M294.2,364.3 L295.7,368.4" stroke="#111" stroke-width="1.1" fill="none"/>
<text x="283.5" y="353.6" font-size="7.3" font-weight="bold" fill="#1e1e1e" text-anchor="start">1125 cm<tspan font-size="6.13" dy="-2.6">-1</tspan></text>
<text x="293.2" y="450.1" font-size="9.9" font-weight="bold" fill="#1e1e1e" text-anchor="middle">Wavenumber [cm<tspan font-size="8" dy="-3.2">-1</tspan><tspan dy="3.2">]</tspan></text>
<text x="0" y="0" font-size="9.3" font-weight="bold" fill="#1e1e1e" text-anchor="middle" dominant-baseline="central" transform="translate(154,341.9) rotate(-90)">Intensity [A.U.]</text>
<text x="288.1" y="461.5" font-size="12" font-weight="bold" text-anchor="middle" dominant-baseline="central" fill="#1e1e1e" >(c)</text>
</g></svg>
</body></html>
